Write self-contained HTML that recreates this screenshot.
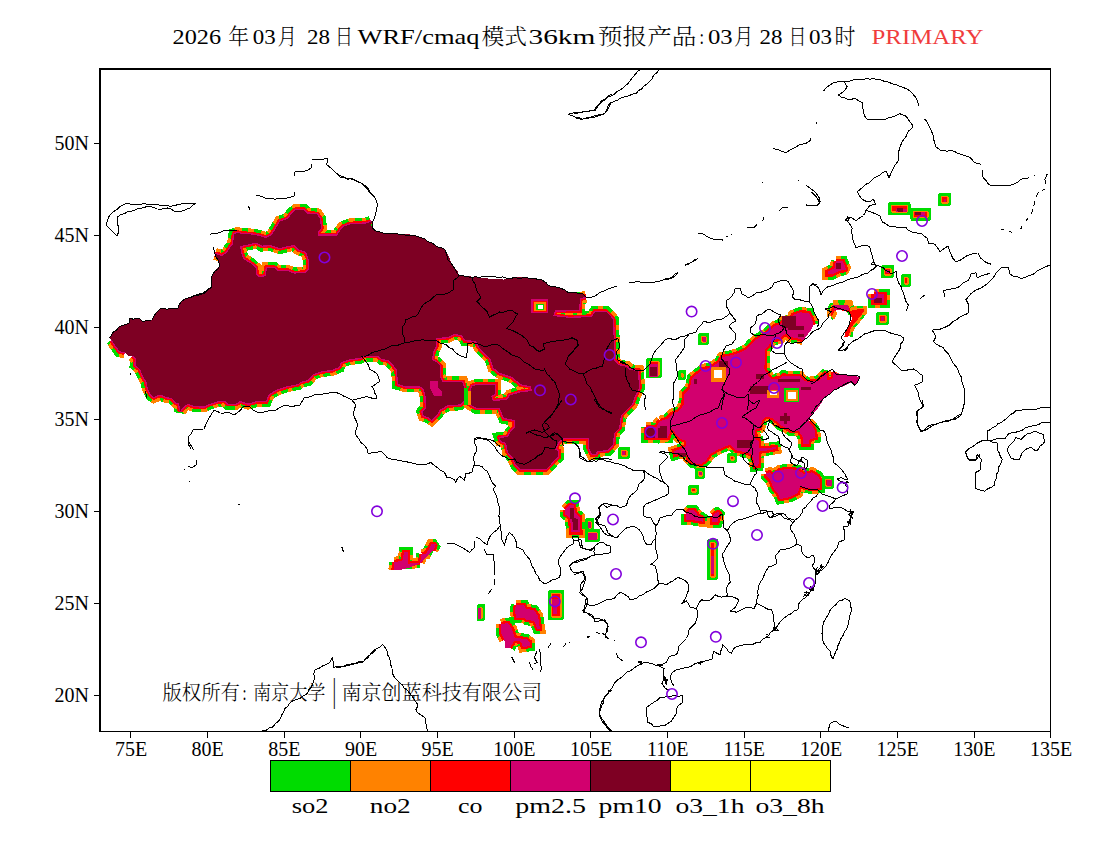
<!DOCTYPE html>
<html lang="zh"><head><meta charset="utf-8"><title>WRF/cmaq PRIMARY</title>
<style>
html,body{margin:0;padding:0;background:#fff;}
body{width:1100px;height:850px;overflow:hidden;position:relative;}
svg{position:absolute;left:0;top:0;display:block;}
text{font-family:"Liberation Serif","Noto Serif CJK SC",serif;fill:#000;}
.ax{font-size:20px;}
.lg{font-size:22px;}
.ttl{font-size:21.5px;font-weight:300;}
.cp{font-size:20.5px;font-weight:300;}
.bd{fill:none;stroke:#000;stroke-width:1;stroke-linejoin:round;stroke-linecap:round;}
.cc{fill:none;stroke:#8200dc;stroke-width:1.6;}
</style></head><body>
<svg width="1100" height="850" viewBox="0 0 1100 850">
<rect x="0" y="0" width="1100" height="850" fill="#fff"/>
<defs><clipPath id="mapclip"><rect x="100" y="69" width="950.5" height="662.5"/></clipPath></defs>
<g clip-path="url(#mapclip)" shape-rendering="crispEdges">
<path d="M215.0,254.0 L222.0,256.0 L227.0,253.0 L230.0,248.0 L233.0,244.0 L234.4,234.0 L237.0,233.0 L242.0,234.0 L250.0,234.4 L258.0,235.6 L266.0,238.0 L272.0,235.0 L276.0,228.0 L280.0,221.6 L288.0,219.0 L292.0,213.0 L296.0,210.0 L304.0,210.0 L307.0,213.6 L317.0,214.4 L320.0,219.0 L321.0,228.0 L318.0,232.0 L318.0,235.6 L337.0,235.6 L340.0,231.0 L343.0,227.0 L350.0,224.4 L366.0,223.6 L371.0,221.6 M586.0,297.0 L580.0,298.0 L579.0,310.0 L555.0,310.4 L553.0,316.0 L570.0,318.0 L592.0,317.0 L595.0,312.0 L606.0,312.0 L611.0,317.0 L613.0,320.0 L613.6,338.0 L613.6,360.0 L618.0,365.0 L627.0,367.0 L629.0,370.0 L638.0,371.0 L639.0,388.0 L635.0,396.0 L632.0,404.0 L627.0,409.0 L621.0,415.0 L619.0,428.0 L614.0,433.0 L613.0,444.0 L608.0,450.0 L597.0,451.0 L596.0,454.0 L592.0,454.0 L589.0,448.0 L589.0,438.0 L564.0,438.0 L560.0,440.0 L558.0,443.0 L555.0,450.0 L558.0,451.0 L558.0,457.0 L554.0,460.0 L551.0,464.0 L546.0,469.0 L520.0,469.0 L516.0,465.0 L513.0,458.0 L508.0,452.0 L506.0,443.0 L501.0,441.0 L500.0,438.0 L508.0,437.0 L510.0,433.0 L515.0,427.0 L515.0,420.0 L504.0,418.0 L500.0,409.0 L500.0,407.6 L476.0,407.6 L470.0,404.0 L470.0,401.0 L463.6,401.0 L460.0,404.4 L448.0,405.0 L440.0,409.6 L437.0,414.4 L431.6,419.6 L428.0,417.0 L423.6,415.6 L422.4,412.0 L426.0,408.0 L425.6,396.0 L423.6,389.0 L420.0,386.4 L406.0,386.4 L398.0,384.0 L397.0,370.0 L394.0,366.0 L388.0,360.0 L382.0,359.0 L378.0,355.6 L364.0,355.6 L360.0,358.0 L350.0,359.0 L341.0,362.0 L339.0,367.0 L332.0,370.0 L322.0,371.0 L313.0,374.0 L308.0,380.0 L300.0,382.0 L298.0,384.0 L288.0,386.0 L278.0,389.0 L269.0,394.0 L266.0,401.0 L257.0,401.0 L248.0,403.6 L240.0,401.0 L236.0,403.6 L228.0,403.6 L225.0,400.6 L218.0,401.0 L209.0,404.0 L204.0,406.4 L194.0,406.0 L188.0,403.6 L183.0,407.0 L180.4,411.0 L179.0,403.6 L176.0,402.4 L172.0,398.0 L166.0,397.0 L160.0,394.4 L154.0,397.0 L151.0,395.0 L148.0,389.0 L146.4,382.0 L143.0,376.0 L140.0,369.0 L135.6,365.0 L136.0,359.0 L133.0,355.6 M125.0,352.4 L119.0,351.0 L118.0,349.0 L115.0,345.0 L112.0,340.0 M240.0,246.0 L250.0,244.0 L256.0,242.4 L262.0,245.6 L270.0,245.0 L280.0,248.0 L288.0,246.0 L294.0,245.0 L298.0,249.0 L306.0,252.0 L309.0,260.0 L309.0,270.0 L305.0,273.0 L294.0,273.6 L288.0,271.0 L278.0,271.0 L274.0,268.0 L267.0,268.0 L265.6,276.0 L259.0,277.6 L256.0,274.0 L255.6,268.0 L250.0,263.0 L243.0,259.0 L241.0,252.0 L240.0,246.0 M436.0,338.0 L448.0,337.0 L454.0,334.0 L462.0,335.0 L465.0,340.0 L476.0,341.0 L479.0,347.0 L484.0,352.4 L490.0,358.0 L493.6,368.0 L500.0,373.0 L512.0,377.0 L517.0,381.0 L520.0,384.0 L531.0,386.4 L532.0,391.0 L520.0,392.4 L510.0,395.6 L507.0,400.0 L493.0,401.0 L491.0,396.0 L495.0,394.0 L495.0,385.0 L476.0,385.0 L472.4,386.4 L470.0,392.0 L467.0,394.0 L464.0,388.0 L462.4,382.4 L443.0,382.4 L440.0,377.0 L440.0,366.0 L436.0,362.0 L432.0,360.0 L433.0,352.0 L436.0,346.0 L436.0,338.0" fill="none" stroke-linejoin="miter" stroke-miterlimit="1.6" stroke-linecap="butt" stroke="#00dc00" stroke-width="12"/>
<path d="M660.0,421.0 L667.0,419.0 L672.0,414.0 L679.0,411.0 L683.6,405.0 L684.0,394.0 L690.0,388.0 L692.0,378.0 L697.0,374.0 L703.0,369.0 L710.0,368.0 L719.0,362.0 L722.0,357.0 L730.0,355.6 L739.0,353.0 L746.0,349.6 L751.0,344.4 L756.0,339.6 L762.0,336.0 L766.0,334.0 L769.0,331.0 L775.0,326.0 L780.0,324.0 L784.0,321.0 L791.0,320.0 L793.0,315.0 L800.0,312.4 L809.0,313.0 L812.0,319.0 L813.6,325.0 M803.0,340.0 L798.0,338.4 L790.0,337.0 L787.0,334.0 L783.0,335.0 L780.0,339.0 L772.0,340.0 L769.0,345.0 L765.0,350.0 L764.4,369.0 L767.0,373.0 L769.0,377.0 L772.0,379.0 L780.0,378.4 L783.0,375.6 L800.0,376.4 L803.0,380.0 L808.0,382.0 L818.0,381.0 L823.0,376.0 L826.0,372.4 L827.6,380.0 L832.4,379.0 L833.6,372.0 M808.4,422.4 L812.0,425.6 L815.0,430.4 L815.6,438.0 L809.6,439.0 L809.0,444.4 L803.4,444.4 L802.4,436.0 L798.4,431.0 L791.0,431.0 L786.4,428.0 L780.0,425.0 L777.0,421.6 L772.0,418.0 L766.0,416.4 L762.4,420.0 L760.0,428.0 L755.0,430.0 L755.6,440.0 L758.4,440.4 L759.4,448.4 L768.0,448.0 L775.6,447.0 L776.0,449.0 L768.0,450.4 L759.4,451.6 L758.4,466.0 L754.8,466.4 L753.2,458.0 L751.0,454.0 L744.0,452.0 L736.0,450.4 L730.4,444.4 L724.0,447.0 L718.0,449.6 L710.4,454.0 L706.4,460.0 L701.0,464.4 L693.0,463.0 L688.0,458.0 L687.0,454.0 L680.0,453.6 L675.0,455.0 L674.0,451.0 L680.0,449.0 L686.0,446.0 L686.0,441.0 L679.0,438.0 L675.0,433.0 L671.0,428.0 L669.0,436.0 L660.0,438.0 L658.0,436.0 L657.0,428.0 L658.0,423.0 L660.0,421.0 M766.0,473.6 L769.6,472.4 L772.4,475.0 L780.0,470.0 L788.0,469.0 L798.0,470.0 L804.0,474.0 L812.0,472.4 L818.0,476.0 L820.0,480.0 L820.0,488.0 L814.0,489.0 L806.0,488.0 L800.0,486.0 L798.0,493.0 L790.0,497.0 L780.0,499.0 L778.0,494.0 L774.0,489.0 L770.0,480.0 L766.0,476.0 L766.0,473.6 M686.0,513.6 L690.0,510.0 L694.4,510.4 L697.6,515.0 L702.6,518.0 L702.6,521.6 L697.0,521.0 L690.0,519.6 L686.0,519.6 L686.0,513.6 M712.4,515.6 L717.0,512.4 L719.6,511.6 L719.0,516.4 L717.4,522.4 L712.4,522.4 L712.4,515.6 M565.2,509.6 L569.6,505.4 L574.0,505.4 L574.8,512.4 L579.6,516.8 L580.4,532.4 L571.2,532.4 L570.2,518.0 L565.2,514.4 L565.2,509.6 M646.0,427.0 L668.0,427.0 L668.0,438.0 L646.0,438.0 L646.0,427.0 M836.0,261.0 L842.8,261.0 L845.6,268.0 L846.4,270.0 L840.0,270.6 L832.4,274.4 L827.6,274.4 L827.6,271.6 L834.4,268.4 L836.0,261.0 M873.6,294.0 L884.4,294.0 L884.4,303.2 L873.6,303.2 L873.6,294.0 M833.0,304.8 L848.0,304.8 L849.2,309.6 M834.4,310.6 L833.0,304.8 M394.4,562.0 L402.4,561.0 L404.0,552.0 L407.6,552.0 L408.4,563.6 L420.0,563.0 M393.6,570.0 L394.4,562.0 M421.6,554.0 L426.4,553.6 L431.2,544.4 L436.0,544.4 L433.2,550.4 M420.0,563.0 L421.6,554.0 M516.0,605.0 L524.0,605.0 L526.0,609.0 L534.0,610.0 L538.0,616.0 L540.0,629.0 L537.6,629.0 L534.0,621.0 L527.0,620.0 L524.0,618.0 L516.0,618.0 L515.0,610.0 L516.0,605.0 M501.0,624.0 L508.0,623.0 L512.0,629.0 L515.0,638.0 L526.0,639.0 L530.0,642.0 L530.0,646.0 L523.0,647.0 L521.0,641.6 L514.0,641.0 L510.0,648.0 M504.4,639.6 L501.0,633.0 L501.0,624.0" fill="none" stroke-linejoin="miter" stroke-miterlimit="1.6" stroke-linecap="butt" stroke="#00dc00" stroke-width="10.5"/>
<path d="M215.0,254.0 L222.0,256.0 L227.0,253.0 L230.0,248.0 L233.0,244.0 L234.4,234.0 L237.0,233.0 L242.0,234.0 L250.0,234.4 L258.0,235.6 L266.0,238.0 L272.0,235.0 L276.0,228.0 L280.0,221.6 L288.0,219.0 L292.0,213.0 L296.0,210.0 L304.0,210.0 L307.0,213.6 L317.0,214.4 L320.0,219.0 L321.0,228.0 L318.0,232.0 L318.0,235.6 L337.0,235.6 L340.0,231.0 L343.0,227.0 L350.0,224.4 L366.0,223.6 L371.0,221.6 M586.0,297.0 L580.0,298.0 L579.0,310.0 L555.0,310.4 L553.0,316.0 L570.0,318.0 L592.0,317.0 L595.0,312.0 L606.0,312.0 L611.0,317.0 L613.0,320.0 L613.6,338.0 L613.6,360.0 L618.0,365.0 L627.0,367.0 L629.0,370.0 L638.0,371.0 L639.0,388.0 L635.0,396.0 L632.0,404.0 L627.0,409.0 L621.0,415.0 L619.0,428.0 L614.0,433.0 L613.0,444.0 L608.0,450.0 L597.0,451.0 L596.0,454.0 L592.0,454.0 L589.0,448.0 L589.0,438.0 L564.0,438.0 L560.0,440.0 L558.0,443.0 L555.0,450.0 L558.0,451.0 L558.0,457.0 L554.0,460.0 L551.0,464.0 L546.0,469.0 L520.0,469.0 L516.0,465.0 L513.0,458.0 L508.0,452.0 L506.0,443.0 L501.0,441.0 L500.0,438.0 L508.0,437.0 L510.0,433.0 L515.0,427.0 L515.0,420.0 L504.0,418.0 L500.0,409.0 L500.0,407.6 L476.0,407.6 L470.0,404.0 L470.0,401.0 L463.6,401.0 L460.0,404.4 L448.0,405.0 L440.0,409.6 L437.0,414.4 L431.6,419.6 L428.0,417.0 L423.6,415.6 L422.4,412.0 L426.0,408.0 L425.6,396.0 L423.6,389.0 L420.0,386.4 L406.0,386.4 L398.0,384.0 L397.0,370.0 L394.0,366.0 L388.0,360.0 L382.0,359.0 L378.0,355.6 L364.0,355.6 L360.0,358.0 L350.0,359.0 L341.0,362.0 L339.0,367.0 L332.0,370.0 L322.0,371.0 L313.0,374.0 L308.0,380.0 L300.0,382.0 L298.0,384.0 L288.0,386.0 L278.0,389.0 L269.0,394.0 L266.0,401.0 L257.0,401.0 L248.0,403.6 L240.0,401.0 L236.0,403.6 L228.0,403.6 L225.0,400.6 L218.0,401.0 L209.0,404.0 L204.0,406.4 L194.0,406.0 L188.0,403.6 L183.0,407.0 L180.4,411.0 L179.0,403.6 L176.0,402.4 L172.0,398.0 L166.0,397.0 L160.0,394.4 L154.0,397.0 L151.0,395.0 L148.0,389.0 L146.4,382.0 L143.0,376.0 L140.0,369.0 L135.6,365.0 L136.0,359.0 L133.0,355.6 M125.0,352.4 L119.0,351.0 L118.0,349.0 L115.0,345.0 L112.0,340.0 M240.0,246.0 L250.0,244.0 L256.0,242.4 L262.0,245.6 L270.0,245.0 L280.0,248.0 L288.0,246.0 L294.0,245.0 L298.0,249.0 L306.0,252.0 L309.0,260.0 L309.0,270.0 L305.0,273.0 L294.0,273.6 L288.0,271.0 L278.0,271.0 L274.0,268.0 L267.0,268.0 L265.6,276.0 L259.0,277.6 L256.0,274.0 L255.6,268.0 L250.0,263.0 L243.0,259.0 L241.0,252.0 L240.0,246.0 M436.0,338.0 L448.0,337.0 L454.0,334.0 L462.0,335.0 L465.0,340.0 L476.0,341.0 L479.0,347.0 L484.0,352.4 L490.0,358.0 L493.6,368.0 L500.0,373.0 L512.0,377.0 L517.0,381.0 L520.0,384.0 L531.0,386.4 L532.0,391.0 L520.0,392.4 L510.0,395.6 L507.0,400.0 L493.0,401.0 L491.0,396.0 L495.0,394.0 L495.0,385.0 L476.0,385.0 L472.4,386.4 L470.0,392.0 L467.0,394.0 L464.0,388.0 L462.4,382.4 L443.0,382.4 L440.0,377.0 L440.0,366.0 L436.0,362.0 L432.0,360.0 L433.0,352.0 L436.0,346.0 L436.0,338.0" fill="none" stroke-linejoin="miter" stroke-miterlimit="1.6" stroke-linecap="butt" stroke="#ff8200" stroke-width="12" stroke-dasharray="5 7"/>
<path d="M660.0,421.0 L667.0,419.0 L672.0,414.0 L679.0,411.0 L683.6,405.0 L684.0,394.0 L690.0,388.0 L692.0,378.0 L697.0,374.0 L703.0,369.0 L710.0,368.0 L719.0,362.0 L722.0,357.0 L730.0,355.6 L739.0,353.0 L746.0,349.6 L751.0,344.4 L756.0,339.6 L762.0,336.0 L766.0,334.0 L769.0,331.0 L775.0,326.0 L780.0,324.0 L784.0,321.0 L791.0,320.0 L793.0,315.0 L800.0,312.4 L809.0,313.0 L812.0,319.0 L813.6,325.0 M803.0,340.0 L798.0,338.4 L790.0,337.0 L787.0,334.0 L783.0,335.0 L780.0,339.0 L772.0,340.0 L769.0,345.0 L765.0,350.0 L764.4,369.0 L767.0,373.0 L769.0,377.0 L772.0,379.0 L780.0,378.4 L783.0,375.6 L800.0,376.4 L803.0,380.0 L808.0,382.0 L818.0,381.0 L823.0,376.0 L826.0,372.4 L827.6,380.0 L832.4,379.0 L833.6,372.0 M808.4,422.4 L812.0,425.6 L815.0,430.4 L815.6,438.0 L809.6,439.0 L809.0,444.4 L803.4,444.4 L802.4,436.0 L798.4,431.0 L791.0,431.0 L786.4,428.0 L780.0,425.0 L777.0,421.6 L772.0,418.0 L766.0,416.4 L762.4,420.0 L760.0,428.0 L755.0,430.0 L755.6,440.0 L758.4,440.4 L759.4,448.4 L768.0,448.0 L775.6,447.0 L776.0,449.0 L768.0,450.4 L759.4,451.6 L758.4,466.0 L754.8,466.4 L753.2,458.0 L751.0,454.0 L744.0,452.0 L736.0,450.4 L730.4,444.4 L724.0,447.0 L718.0,449.6 L710.4,454.0 L706.4,460.0 L701.0,464.4 L693.0,463.0 L688.0,458.0 L687.0,454.0 L680.0,453.6 L675.0,455.0 L674.0,451.0 L680.0,449.0 L686.0,446.0 L686.0,441.0 L679.0,438.0 L675.0,433.0 L671.0,428.0 L669.0,436.0 L660.0,438.0 L658.0,436.0 L657.0,428.0 L658.0,423.0 L660.0,421.0 M766.0,473.6 L769.6,472.4 L772.4,475.0 L780.0,470.0 L788.0,469.0 L798.0,470.0 L804.0,474.0 L812.0,472.4 L818.0,476.0 L820.0,480.0 L820.0,488.0 L814.0,489.0 L806.0,488.0 L800.0,486.0 L798.0,493.0 L790.0,497.0 L780.0,499.0 L778.0,494.0 L774.0,489.0 L770.0,480.0 L766.0,476.0 L766.0,473.6 M686.0,513.6 L690.0,510.0 L694.4,510.4 L697.6,515.0 L702.6,518.0 L702.6,521.6 L697.0,521.0 L690.0,519.6 L686.0,519.6 L686.0,513.6 M712.4,515.6 L717.0,512.4 L719.6,511.6 L719.0,516.4 L717.4,522.4 L712.4,522.4 L712.4,515.6 M565.2,509.6 L569.6,505.4 L574.0,505.4 L574.8,512.4 L579.6,516.8 L580.4,532.4 L571.2,532.4 L570.2,518.0 L565.2,514.4 L565.2,509.6 M646.0,427.0 L668.0,427.0 L668.0,438.0 L646.0,438.0 L646.0,427.0 M836.0,261.0 L842.8,261.0 L845.6,268.0 L846.4,270.0 L840.0,270.6 L832.4,274.4 L827.6,274.4 L827.6,271.6 L834.4,268.4 L836.0,261.0 M873.6,294.0 L884.4,294.0 L884.4,303.2 L873.6,303.2 L873.6,294.0 M833.0,304.8 L848.0,304.8 L849.2,309.6 M834.4,310.6 L833.0,304.8 M394.4,562.0 L402.4,561.0 L404.0,552.0 L407.6,552.0 L408.4,563.6 L420.0,563.0 M393.6,570.0 L394.4,562.0 M421.6,554.0 L426.4,553.6 L431.2,544.4 L436.0,544.4 L433.2,550.4 M420.0,563.0 L421.6,554.0 M516.0,605.0 L524.0,605.0 L526.0,609.0 L534.0,610.0 L538.0,616.0 L540.0,629.0 L537.6,629.0 L534.0,621.0 L527.0,620.0 L524.0,618.0 L516.0,618.0 L515.0,610.0 L516.0,605.0 M501.0,624.0 L508.0,623.0 L512.0,629.0 L515.0,638.0 L526.0,639.0 L530.0,642.0 L530.0,646.0 L523.0,647.0 L521.0,641.6 L514.0,641.0 L510.0,648.0 M504.4,639.6 L501.0,633.0 L501.0,624.0" fill="none" stroke-linejoin="miter" stroke-miterlimit="1.6" stroke-linecap="butt" stroke="#ff8200" stroke-width="10.5" stroke-dasharray="5 7"/>
<path d="M215.0,254.0 L222.0,256.0 L227.0,253.0 L230.0,248.0 L233.0,244.0 L234.4,234.0 L237.0,233.0 L242.0,234.0 L250.0,234.4 L258.0,235.6 L266.0,238.0 L272.0,235.0 L276.0,228.0 L280.0,221.6 L288.0,219.0 L292.0,213.0 L296.0,210.0 L304.0,210.0 L307.0,213.6 L317.0,214.4 L320.0,219.0 L321.0,228.0 L318.0,232.0 L318.0,235.6 L337.0,235.6 L340.0,231.0 L343.0,227.0 L350.0,224.4 L366.0,223.6 L371.0,221.6 M586.0,297.0 L580.0,298.0 L579.0,310.0 L555.0,310.4 L553.0,316.0 L570.0,318.0 L592.0,317.0 L595.0,312.0 L606.0,312.0 L611.0,317.0 L613.0,320.0 L613.6,338.0 L613.6,360.0 L618.0,365.0 L627.0,367.0 L629.0,370.0 L638.0,371.0 L639.0,388.0 L635.0,396.0 L632.0,404.0 L627.0,409.0 L621.0,415.0 L619.0,428.0 L614.0,433.0 L613.0,444.0 L608.0,450.0 L597.0,451.0 L596.0,454.0 L592.0,454.0 L589.0,448.0 L589.0,438.0 L564.0,438.0 L560.0,440.0 L558.0,443.0 L555.0,450.0 L558.0,451.0 L558.0,457.0 L554.0,460.0 L551.0,464.0 L546.0,469.0 L520.0,469.0 L516.0,465.0 L513.0,458.0 L508.0,452.0 L506.0,443.0 L501.0,441.0 L500.0,438.0 L508.0,437.0 L510.0,433.0 L515.0,427.0 L515.0,420.0 L504.0,418.0 L500.0,409.0 L500.0,407.6 L476.0,407.6 L470.0,404.0 L470.0,401.0 L463.6,401.0 L460.0,404.4 L448.0,405.0 L440.0,409.6 L437.0,414.4 L431.6,419.6 L428.0,417.0 L423.6,415.6 L422.4,412.0 L426.0,408.0 L425.6,396.0 L423.6,389.0 L420.0,386.4 L406.0,386.4 L398.0,384.0 L397.0,370.0 L394.0,366.0 L388.0,360.0 L382.0,359.0 L378.0,355.6 L364.0,355.6 L360.0,358.0 L350.0,359.0 L341.0,362.0 L339.0,367.0 L332.0,370.0 L322.0,371.0 L313.0,374.0 L308.0,380.0 L300.0,382.0 L298.0,384.0 L288.0,386.0 L278.0,389.0 L269.0,394.0 L266.0,401.0 L257.0,401.0 L248.0,403.6 L240.0,401.0 L236.0,403.6 L228.0,403.6 L225.0,400.6 L218.0,401.0 L209.0,404.0 L204.0,406.4 L194.0,406.0 L188.0,403.6 L183.0,407.0 L180.4,411.0 L179.0,403.6 L176.0,402.4 L172.0,398.0 L166.0,397.0 L160.0,394.4 L154.0,397.0 L151.0,395.0 L148.0,389.0 L146.4,382.0 L143.0,376.0 L140.0,369.0 L135.6,365.0 L136.0,359.0 L133.0,355.6 M125.0,352.4 L119.0,351.0 L118.0,349.0 L115.0,345.0 L112.0,340.0 M240.0,246.0 L250.0,244.0 L256.0,242.4 L262.0,245.6 L270.0,245.0 L280.0,248.0 L288.0,246.0 L294.0,245.0 L298.0,249.0 L306.0,252.0 L309.0,260.0 L309.0,270.0 L305.0,273.0 L294.0,273.6 L288.0,271.0 L278.0,271.0 L274.0,268.0 L267.0,268.0 L265.6,276.0 L259.0,277.6 L256.0,274.0 L255.6,268.0 L250.0,263.0 L243.0,259.0 L241.0,252.0 L240.0,246.0 M436.0,338.0 L448.0,337.0 L454.0,334.0 L462.0,335.0 L465.0,340.0 L476.0,341.0 L479.0,347.0 L484.0,352.4 L490.0,358.0 L493.6,368.0 L500.0,373.0 L512.0,377.0 L517.0,381.0 L520.0,384.0 L531.0,386.4 L532.0,391.0 L520.0,392.4 L510.0,395.6 L507.0,400.0 L493.0,401.0 L491.0,396.0 L495.0,394.0 L495.0,385.0 L476.0,385.0 L472.4,386.4 L470.0,392.0 L467.0,394.0 L464.0,388.0 L462.4,382.4 L443.0,382.4 L440.0,377.0 L440.0,366.0 L436.0,362.0 L432.0,360.0 L433.0,352.0 L436.0,346.0 L436.0,338.0" fill="none" stroke-linejoin="miter" stroke-miterlimit="1.6" stroke-linecap="butt" stroke="#ff0000" stroke-width="5.5"/>
<path d="M660.0,421.0 L667.0,419.0 L672.0,414.0 L679.0,411.0 L683.6,405.0 L684.0,394.0 L690.0,388.0 L692.0,378.0 L697.0,374.0 L703.0,369.0 L710.0,368.0 L719.0,362.0 L722.0,357.0 L730.0,355.6 L739.0,353.0 L746.0,349.6 L751.0,344.4 L756.0,339.6 L762.0,336.0 L766.0,334.0 L769.0,331.0 L775.0,326.0 L780.0,324.0 L784.0,321.0 L791.0,320.0 L793.0,315.0 L800.0,312.4 L809.0,313.0 L812.0,319.0 L813.6,325.0 M803.0,340.0 L798.0,338.4 L790.0,337.0 L787.0,334.0 L783.0,335.0 L780.0,339.0 L772.0,340.0 L769.0,345.0 L765.0,350.0 L764.4,369.0 L767.0,373.0 L769.0,377.0 L772.0,379.0 L780.0,378.4 L783.0,375.6 L800.0,376.4 L803.0,380.0 L808.0,382.0 L818.0,381.0 L823.0,376.0 L826.0,372.4 L827.6,380.0 L832.4,379.0 L833.6,372.0 M808.4,422.4 L812.0,425.6 L815.0,430.4 L815.6,438.0 L809.6,439.0 L809.0,444.4 L803.4,444.4 L802.4,436.0 L798.4,431.0 L791.0,431.0 L786.4,428.0 L780.0,425.0 L777.0,421.6 L772.0,418.0 L766.0,416.4 L762.4,420.0 L760.0,428.0 L755.0,430.0 L755.6,440.0 L758.4,440.4 L759.4,448.4 L768.0,448.0 L775.6,447.0 L776.0,449.0 L768.0,450.4 L759.4,451.6 L758.4,466.0 L754.8,466.4 L753.2,458.0 L751.0,454.0 L744.0,452.0 L736.0,450.4 L730.4,444.4 L724.0,447.0 L718.0,449.6 L710.4,454.0 L706.4,460.0 L701.0,464.4 L693.0,463.0 L688.0,458.0 L687.0,454.0 L680.0,453.6 L675.0,455.0 L674.0,451.0 L680.0,449.0 L686.0,446.0 L686.0,441.0 L679.0,438.0 L675.0,433.0 L671.0,428.0 L669.0,436.0 L660.0,438.0 L658.0,436.0 L657.0,428.0 L658.0,423.0 L660.0,421.0 M766.0,473.6 L769.6,472.4 L772.4,475.0 L780.0,470.0 L788.0,469.0 L798.0,470.0 L804.0,474.0 L812.0,472.4 L818.0,476.0 L820.0,480.0 L820.0,488.0 L814.0,489.0 L806.0,488.0 L800.0,486.0 L798.0,493.0 L790.0,497.0 L780.0,499.0 L778.0,494.0 L774.0,489.0 L770.0,480.0 L766.0,476.0 L766.0,473.6 M686.0,513.6 L690.0,510.0 L694.4,510.4 L697.6,515.0 L702.6,518.0 L702.6,521.6 L697.0,521.0 L690.0,519.6 L686.0,519.6 L686.0,513.6 M712.4,515.6 L717.0,512.4 L719.6,511.6 L719.0,516.4 L717.4,522.4 L712.4,522.4 L712.4,515.6 M565.2,509.6 L569.6,505.4 L574.0,505.4 L574.8,512.4 L579.6,516.8 L580.4,532.4 L571.2,532.4 L570.2,518.0 L565.2,514.4 L565.2,509.6 M646.0,427.0 L668.0,427.0 L668.0,438.0 L646.0,438.0 L646.0,427.0 M836.0,261.0 L842.8,261.0 L845.6,268.0 L846.4,270.0 L840.0,270.6 L832.4,274.4 L827.6,274.4 L827.6,271.6 L834.4,268.4 L836.0,261.0 M873.6,294.0 L884.4,294.0 L884.4,303.2 L873.6,303.2 L873.6,294.0 M833.0,304.8 L848.0,304.8 L849.2,309.6 M834.4,310.6 L833.0,304.8 M394.4,562.0 L402.4,561.0 L404.0,552.0 L407.6,552.0 L408.4,563.6 L420.0,563.0 M393.6,570.0 L394.4,562.0 M421.6,554.0 L426.4,553.6 L431.2,544.4 L436.0,544.4 L433.2,550.4 M420.0,563.0 L421.6,554.0 M516.0,605.0 L524.0,605.0 L526.0,609.0 L534.0,610.0 L538.0,616.0 L540.0,629.0 L537.6,629.0 L534.0,621.0 L527.0,620.0 L524.0,618.0 L516.0,618.0 L515.0,610.0 L516.0,605.0 M501.0,624.0 L508.0,623.0 L512.0,629.0 L515.0,638.0 L526.0,639.0 L530.0,642.0 L530.0,646.0 L523.0,647.0 L521.0,641.6 L514.0,641.0 L510.0,648.0 M504.4,639.6 L501.0,633.0 L501.0,624.0" fill="none" stroke-linejoin="miter" stroke-miterlimit="1.6" stroke-linecap="butt" stroke="#ff0000" stroke-width="4.5"/>
<path d="M215.0,254.0 L222.0,256.0 L227.0,253.0 L230.0,248.0 L233.0,244.0 L234.4,234.0 L237.0,233.0 L242.0,234.0 L250.0,234.4 L258.0,235.6 L266.0,238.0 L272.0,235.0 L276.0,228.0 L280.0,221.6 L288.0,219.0 L292.0,213.0 L296.0,210.0 L304.0,210.0 L307.0,213.6 L317.0,214.4 L320.0,219.0 L321.0,228.0 L318.0,232.0 L318.0,235.6 L337.0,235.6 L340.0,231.0 L343.0,227.0 L350.0,224.4 L366.0,223.6 L371.0,221.6 M586.0,297.0 L580.0,298.0 L579.0,310.0 L555.0,310.4 L553.0,316.0 L570.0,318.0 L592.0,317.0 L595.0,312.0 L606.0,312.0 L611.0,317.0 L613.0,320.0 L613.6,338.0 L613.6,360.0 L618.0,365.0 L627.0,367.0 L629.0,370.0 L638.0,371.0 L639.0,388.0 L635.0,396.0 L632.0,404.0 L627.0,409.0 L621.0,415.0 L619.0,428.0 L614.0,433.0 L613.0,444.0 L608.0,450.0 L597.0,451.0 L596.0,454.0 L592.0,454.0 L589.0,448.0 L589.0,438.0 L564.0,438.0 L560.0,440.0 L558.0,443.0 L555.0,450.0 L558.0,451.0 L558.0,457.0 L554.0,460.0 L551.0,464.0 L546.0,469.0 L520.0,469.0 L516.0,465.0 L513.0,458.0 L508.0,452.0 L506.0,443.0 L501.0,441.0 L500.0,438.0 L508.0,437.0 L510.0,433.0 L515.0,427.0 L515.0,420.0 L504.0,418.0 L500.0,409.0 L500.0,407.6 L476.0,407.6 L470.0,404.0 L470.0,401.0 L463.6,401.0 L460.0,404.4 L448.0,405.0 L440.0,409.6 L437.0,414.4 L431.6,419.6 L428.0,417.0 L423.6,415.6 L422.4,412.0 L426.0,408.0 L425.6,396.0 L423.6,389.0 L420.0,386.4 L406.0,386.4 L398.0,384.0 L397.0,370.0 L394.0,366.0 L388.0,360.0 L382.0,359.0 L378.0,355.6 L364.0,355.6 L360.0,358.0 L350.0,359.0 L341.0,362.0 L339.0,367.0 L332.0,370.0 L322.0,371.0 L313.0,374.0 L308.0,380.0 L300.0,382.0 L298.0,384.0 L288.0,386.0 L278.0,389.0 L269.0,394.0 L266.0,401.0 L257.0,401.0 L248.0,403.6 L240.0,401.0 L236.0,403.6 L228.0,403.6 L225.0,400.6 L218.0,401.0 L209.0,404.0 L204.0,406.4 L194.0,406.0 L188.0,403.6 L183.0,407.0 L180.4,411.0 L179.0,403.6 L176.0,402.4 L172.0,398.0 L166.0,397.0 L160.0,394.4 L154.0,397.0 L151.0,395.0 L148.0,389.0 L146.4,382.0 L143.0,376.0 L140.0,369.0 L135.6,365.0 L136.0,359.0 L133.0,355.6 M125.0,352.4 L119.0,351.0 L118.0,349.0 L115.0,345.0 L112.0,340.0 M240.0,246.0 L250.0,244.0 L256.0,242.4 L262.0,245.6 L270.0,245.0 L280.0,248.0 L288.0,246.0 L294.0,245.0 L298.0,249.0 L306.0,252.0 L309.0,260.0 L309.0,270.0 L305.0,273.0 L294.0,273.6 L288.0,271.0 L278.0,271.0 L274.0,268.0 L267.0,268.0 L265.6,276.0 L259.0,277.6 L256.0,274.0 L255.6,268.0 L250.0,263.0 L243.0,259.0 L241.0,252.0 L240.0,246.0 M436.0,338.0 L448.0,337.0 L454.0,334.0 L462.0,335.0 L465.0,340.0 L476.0,341.0 L479.0,347.0 L484.0,352.4 L490.0,358.0 L493.6,368.0 L500.0,373.0 L512.0,377.0 L517.0,381.0 L520.0,384.0 L531.0,386.4 L532.0,391.0 L520.0,392.4 L510.0,395.6 L507.0,400.0 L493.0,401.0 L491.0,396.0 L495.0,394.0 L495.0,385.0 L476.0,385.0 L472.4,386.4 L470.0,392.0 L467.0,394.0 L464.0,388.0 L462.4,382.4 L443.0,382.4 L440.0,377.0 L440.0,366.0 L436.0,362.0 L432.0,360.0 L433.0,352.0 L436.0,346.0 L436.0,338.0" fill="none" stroke-linejoin="miter" stroke-miterlimit="1.6" stroke-linecap="butt" stroke="#d2006e" stroke-width="2.6"/>
<path d="M830.8,316.4 L830.6,310.8 L832.4,306.4 L848.6,306.0 L850.4,310.8 L858.4,309.2 L863.6,309.2 L863.6,312.0 L858.0,319.0 L853.2,324.4 L850.0,330.0 L849.0,336.4 M834.4,310.8 L832.0,316.0 L830.8,316.4" fill="none" stroke-linejoin="miter" stroke-miterlimit="1.6" stroke-linecap="butt" stroke="#00dc00" stroke-width="7"/>
<path d="M830.8,316.4 L830.6,310.8 L832.4,306.4 L848.6,306.0 L850.4,310.8 L858.4,309.2 L863.6,309.2 L863.6,312.0 L858.0,319.0 L853.2,324.4 L850.0,330.0 L849.0,336.4 M834.4,310.8 L832.0,316.0 L830.8,316.4" fill="none" stroke-linejoin="miter" stroke-miterlimit="1.6" stroke-linecap="butt" stroke="#ff8200" stroke-width="7" stroke-dasharray="6 5"/>
<path d="M830.8,316.4 L830.6,310.8 L832.4,306.4 L848.6,306.0 L850.4,310.8 L858.4,309.2 L863.6,309.2 L863.6,312.0 L858.0,319.0 L853.2,324.4 L850.0,330.0 L849.0,336.4 M834.4,310.8 L832.0,316.0 L830.8,316.4" fill="none" stroke-linejoin="miter" stroke-miterlimit="1.6" stroke-linecap="butt" stroke="#ff8200" stroke-width="2.5"/>
<path d="M830.8,316.4 L830.6,310.8 L832.4,306.4 L848.6,306.0 L850.4,310.8 L858.4,309.2 L863.6,309.2 L863.6,312.0 L858.0,319.0 L853.2,324.4 L850.0,330.0 L849.0,336.4 L844.4,337.0 L846.0,330.0 L850.0,323.6 L852.0,318.4 L849.4,312.4 L840.0,310.0 L834.4,310.8 L832.0,316.0Z" fill="#ff0000" fill-rule="evenodd"/>
<rect x="938.0" y="193.0" width="13.0" height="13.0" fill="#00dc00" rx="2"/>
<rect x="940.5" y="195.5" width="8.0" height="8.0" fill="#ff8200" rx="1"/>
<rect x="942.0" y="197.0" width="5.0" height="5.0" fill="#ff0000"/>
<rect x="943.5" y="199.0" width="2.0" height="3.0" fill="#d2006e"/>
<rect x="888.0" y="202.0" width="22.6" height="13.0" fill="#00dc00" rx="2"/>
<rect x="890.5" y="204.5" width="17.6" height="8.0" fill="#ff8200" rx="1"/>
<rect x="892.0" y="206.0" width="14.6" height="5.0" fill="#ff0000"/>
<rect x="895.5" y="209.0" width="11.0" height="3.0" fill="#d2006e"/>
<rect x="897.5" y="209.0" width="5.5" height="3.0" fill="#7e0023"/>
<rect x="910.3" y="208.0" width="20.7" height="12.8" fill="#00dc00" rx="2"/>
<rect x="912.8" y="210.5" width="15.7" height="7.8" fill="#ff8200" rx="1"/>
<rect x="914.3" y="212.0" width="12.7" height="4.8" fill="#ff0000"/>
<rect x="915.0" y="212.4" width="10.0" height="2.8" fill="#d2006e"/>
<rect x="915.0" y="212.4" width="5.0" height="2.8" fill="#7e0023"/>
<rect x="881.0" y="265.0" width="13.0" height="13.0" fill="#00dc00" rx="2"/>
<rect x="883.5" y="267.5" width="8.0" height="8.0" fill="#ff8200" rx="1"/>
<rect x="885.0" y="269.0" width="5.0" height="5.0" fill="#ff0000"/>
<rect x="886.0" y="270.0" width="3.0" height="3.0" fill="#d2006e"/>
<rect x="901.0" y="274.0" width="10.0" height="13.0" fill="#00dc00" rx="2"/>
<rect x="903.5" y="276.5" width="5.0" height="8.0" fill="#ff8200" rx="1"/>
<rect x="905.0" y="278.0" width="2.0" height="5.0" fill="#ff0000"/>
<rect x="876.0" y="312.0" width="13.0" height="13.0" fill="#00dc00" rx="2"/>
<rect x="878.5" y="314.5" width="8.0" height="8.0" fill="#ff8200" rx="1"/>
<rect x="880.0" y="316.0" width="5.0" height="5.0" fill="#ff0000"/>
<rect x="881.0" y="317.0" width="3.0" height="4.0" fill="#d2006e"/>
<rect x="646.0" y="358.0" width="16.0" height="20.0" fill="#00dc00" rx="2"/>
<rect x="648.5" y="360.5" width="11.0" height="15.0" fill="#ff8200" rx="1"/>
<rect x="650.0" y="362.0" width="8.0" height="12.0" fill="#ff0000"/>
<rect x="649.0" y="364.0" width="9.0" height="13.0" fill="#d2006e"/>
<rect x="650.0" y="367.0" width="7.0" height="9.0" fill="#7e0023"/>
<rect x="678.0" y="370.0" width="8.0" height="10.0" fill="#00dc00" rx="2"/>
<rect x="680.5" y="372.5" width="3.0" height="5.0" fill="#ff8200" rx="1"/>
<rect x="698.0" y="333.0" width="11.0" height="12.0" fill="#00dc00" rx="2"/>
<rect x="700.5" y="335.5" width="6.0" height="7.0" fill="#ff8200" rx="1"/>
<rect x="702.0" y="337.0" width="3.0" height="4.0" fill="#ff0000"/>
<rect x="702.5" y="337.0" width="3.0" height="5.0" fill="#d2006e"/>
<rect x="618.0" y="447.0" width="12.0" height="12.0" fill="#00dc00" rx="2"/>
<rect x="620.5" y="449.5" width="7.0" height="7.0" fill="#ff8200" rx="1"/>
<rect x="622.0" y="451.0" width="4.0" height="4.0" fill="#ff0000"/>
<rect x="622.0" y="451.0" width="3.0" height="4.0" fill="#d2006e"/>
<rect x="585.0" y="518.0" width="9.0" height="13.0" fill="#00dc00" rx="2"/>
<rect x="587.5" y="520.5" width="4.0" height="8.0" fill="#ff8200" rx="1"/>
<rect x="587.5" y="522.0" width="3.0" height="6.0" fill="#d2006e"/>
<rect x="585.0" y="529.0" width="15.0" height="13.0" fill="#00dc00" rx="2"/>
<rect x="587.5" y="531.5" width="10.0" height="8.0" fill="#ff8200" rx="1"/>
<rect x="589.0" y="533.0" width="7.0" height="5.0" fill="#ff0000"/>
<rect x="588.0" y="533.0" width="9.0" height="7.0" fill="#d2006e"/>
<rect x="695.0" y="468.0" width="10.0" height="11.0" fill="#00dc00" rx="2"/>
<rect x="697.5" y="470.5" width="5.0" height="6.0" fill="#ff8200" rx="1"/>
<rect x="699.0" y="472.0" width="2.0" height="3.0" fill="#ff0000"/>
<rect x="699.0" y="472.0" width="3.0" height="3.0" fill="#d2006e"/>
<rect x="688.0" y="485.0" width="11.0" height="10.0" fill="#00dc00" rx="2"/>
<rect x="690.5" y="487.5" width="6.0" height="5.0" fill="#ff8200" rx="1"/>
<rect x="692.0" y="489.0" width="3.0" height="2.0" fill="#ff0000"/>
<rect x="727.0" y="453.0" width="10.0" height="10.0" fill="#00dc00" rx="2"/>
<rect x="729.5" y="455.5" width="5.0" height="5.0" fill="#ff8200" rx="1"/>
<rect x="731.0" y="457.0" width="2.0" height="2.0" fill="#ff0000"/>
<rect x="707.0" y="539.0" width="11.0" height="41.0" fill="#00dc00" rx="2"/>
<rect x="709.5" y="541.5" width="6.0" height="36.0" fill="#ff8200" rx="1"/>
<rect x="711.0" y="543.0" width="3.0" height="33.0" fill="#ff0000"/>
<rect x="710.5" y="556.0" width="3.0" height="18.0" fill="#d2006e"/>
<rect x="822.0" y="476.0" width="12.0" height="13.0" fill="#00dc00" rx="2"/>
<rect x="824.5" y="478.5" width="7.0" height="8.0" fill="#ff8200" rx="1"/>
<rect x="826.0" y="480.0" width="4.0" height="5.0" fill="#ff0000"/>
<rect x="827.0" y="480.0" width="5.0" height="6.0" fill="#d2006e"/>
<rect x="548.0" y="590.0" width="16.0" height="30.0" fill="#00dc00" rx="2"/>
<rect x="550.5" y="592.5" width="11.0" height="25.0" fill="#ff8200" rx="1"/>
<rect x="552.0" y="594.0" width="8.0" height="22.0" fill="#ff0000"/>
<rect x="552.0" y="599.0" width="8.0" height="7.0" fill="#d2006e"/>
<rect x="553.0" y="606.0" width="4.0" height="8.0" fill="#d2006e"/>
<rect x="477.0" y="604.0" width="8.0" height="17.0" fill="#00dc00" rx="2"/>
<rect x="479.5" y="606.5" width="3.0" height="12.0" fill="#ff8200" rx="1"/>
<rect x="478.0" y="608.0" width="3.0" height="11.0" fill="#d2006e"/>
<path d="M660.0,421.0 L667.0,419.0 L672.0,414.0 L679.0,411.0 L683.6,405.0 L684.0,394.0 L690.0,388.0 L692.0,378.0 L697.0,374.0 L703.0,369.0 L710.0,368.0 L719.0,362.0 L722.0,357.0 L730.0,355.6 L739.0,353.0 L746.0,349.6 L751.0,344.4 L756.0,339.6 L762.0,336.0 L766.0,334.0 L769.0,331.0 L775.0,326.0 L780.0,324.0 L784.0,321.0 L791.0,320.0 L793.0,315.0 L800.0,312.4 L809.0,313.0 L812.0,319.0 L813.6,325.0 L811.0,330.0 L808.0,334.0 L805.0,338.0 L803.0,340.0 L798.0,338.4 L790.0,337.0 L787.0,334.0 L783.0,335.0 L780.0,339.0 L772.0,340.0 L769.0,345.0 L765.0,350.0 L764.4,369.0 L767.0,373.0 L769.0,377.0 L772.0,379.0 L780.0,378.4 L783.0,375.6 L800.0,376.4 L803.0,380.0 L808.0,382.0 L818.0,381.0 L823.0,376.0 L826.0,372.4 L827.6,380.0 L832.4,379.0 L833.6,372.0 L840.0,374.0 L852.0,375.6 L859.4,377.0 L858.0,382.4 L855.0,384.4 L851.6,382.0 L844.0,386.0 L836.0,389.0 L830.0,394.0 L823.6,397.6 L822.0,402.0 L818.0,408.0 L814.0,412.4 L809.0,418.0 L808.4,422.4 L812.0,425.6 L815.0,430.4 L815.6,438.0 L809.6,439.0 L809.0,444.4 L803.4,444.4 L802.4,436.0 L798.4,431.0 L791.0,431.0 L786.4,428.0 L780.0,425.0 L777.0,421.6 L772.0,418.0 L766.0,416.4 L762.4,420.0 L760.0,428.0 L755.0,430.0 L755.6,440.0 L758.4,440.4 L759.4,448.4 L768.0,448.0 L775.6,447.0 L776.0,449.0 L768.0,450.4 L759.4,451.6 L758.4,466.0 L754.8,466.4 L753.2,458.0 L751.0,454.0 L744.0,452.0 L736.0,450.4 L730.4,444.4 L724.0,447.0 L718.0,449.6 L710.4,454.0 L706.4,460.0 L701.0,464.4 L693.0,463.0 L688.0,458.0 L687.0,454.0 L680.0,453.6 L675.0,455.0 L674.0,451.0 L680.0,449.0 L686.0,446.0 L686.0,441.0 L679.0,438.0 L675.0,433.0 L671.0,428.0 L669.0,436.0 L660.0,438.0 L658.0,436.0 L657.0,428.0 L658.0,423.0Z" fill="#d2006e" fill-rule="evenodd"/>
<path d="M766.0,473.6 L769.6,472.4 L772.4,475.0 L780.0,470.0 L788.0,469.0 L798.0,470.0 L804.0,474.0 L812.0,472.4 L818.0,476.0 L820.0,480.0 L820.0,488.0 L814.0,489.0 L806.0,488.0 L800.0,486.0 L798.0,493.0 L790.0,497.0 L780.0,499.0 L778.0,494.0 L774.0,489.0 L770.0,480.0 L766.0,476.0Z" fill="#d2006e" fill-rule="evenodd"/>
<path d="M686.0,513.6 L690.0,510.0 L694.4,510.4 L697.6,515.0 L702.6,518.0 L702.6,521.6 L697.0,521.0 L690.0,519.6 L686.0,519.6Z" fill="#d2006e" fill-rule="evenodd"/>
<path d="M712.4,515.6 L717.0,512.4 L719.6,511.6 L719.0,516.4 L717.4,522.4 L712.4,522.4Z" fill="#d2006e" fill-rule="evenodd"/>
<path d="M565.2,509.6 L569.6,505.4 L574.0,505.4 L574.8,512.4 L579.6,516.8 L580.4,532.4 L571.2,532.4 L570.2,518.0 L565.2,514.4Z" fill="#d2006e" fill-rule="evenodd"/>
<path d="M646.0,427.0 L668.0,427.0 L668.0,438.0 L646.0,438.0Z" fill="#d2006e" fill-rule="evenodd"/>
<path d="M836.0,261.0 L842.8,261.0 L845.6,268.0 L846.4,270.0 L840.0,270.6 L832.4,274.4 L827.6,274.4 L827.6,271.6 L834.4,268.4Z" fill="#d2006e" fill-rule="evenodd"/>
<path d="M873.6,294.0 L884.4,294.0 L884.4,303.2 L873.6,303.2Z" fill="#d2006e" fill-rule="evenodd"/>
<path d="M833.0,304.8 L848.0,304.8 L849.2,309.6 L840.0,309.6 L834.4,310.6Z" fill="#d2006e" fill-rule="evenodd"/>
<path d="M394.4,562.0 L402.4,561.0 L404.0,552.0 L407.6,552.0 L408.4,563.6 L420.0,563.0 L410.0,567.4 L400.0,570.0 L393.6,570.0Z" fill="#d2006e" fill-rule="evenodd"/>
<path d="M421.6,554.0 L426.4,553.6 L431.2,544.4 L436.0,544.4 L433.2,550.4 L426.4,557.0 L420.0,563.0Z" fill="#d2006e" fill-rule="evenodd"/>
<path d="M516.0,605.0 L524.0,605.0 L526.0,609.0 L534.0,610.0 L538.0,616.0 L540.0,629.0 L537.6,629.0 L534.0,621.0 L527.0,620.0 L524.0,618.0 L516.0,618.0 L515.0,610.0Z" fill="#d2006e" fill-rule="evenodd"/>
<path d="M501.0,624.0 L508.0,623.0 L512.0,629.0 L515.0,638.0 L526.0,639.0 L530.0,642.0 L530.0,646.0 L523.0,647.0 L521.0,641.6 L514.0,641.0 L510.0,648.0 L505.0,648.4 L504.4,639.6 L501.0,633.0Z" fill="#d2006e" fill-rule="evenodd"/>
<path d="M109.6,338.0 L113.0,332.4 L119.0,327.0 L129.0,323.0 L129.6,318.6 L140.0,319.0 L143.0,321.6 L152.0,320.0 L156.0,313.0 L160.0,309.0 L178.0,308.0 L182.0,301.0 L188.0,298.0 L200.0,293.6 L204.0,293.6 L211.0,287.0 L211.0,287.0 L211.6,276.0 L216.0,270.0 L220.0,265.0 L217.0,258.0 L215.0,254.0 L222.0,256.0 L227.0,253.0 L230.0,248.0 L233.0,244.0 L234.4,234.0 L237.0,233.0 L242.0,234.0 L250.0,234.4 L258.0,235.6 L266.0,238.0 L272.0,235.0 L276.0,228.0 L280.0,221.6 L288.0,219.0 L292.0,213.0 L296.0,210.0 L304.0,210.0 L307.0,213.6 L317.0,214.4 L320.0,219.0 L321.0,228.0 L318.0,232.0 L318.0,235.6 L337.0,235.6 L340.0,231.0 L343.0,227.0 L350.0,224.4 L366.0,223.6 L371.0,221.6 L372.4,220.0 L371.0,225.0 L374.0,230.0 L385.0,233.6 L410.0,234.4 L412.0,235.0 L420.0,237.0 L428.0,241.0 L438.0,247.0 L444.0,248.4 L448.0,255.0 L452.0,264.0 L458.0,272.0 L459.0,276.4 L470.0,276.4 L480.0,278.0 L504.0,279.6 L518.0,277.0 L540.0,279.0 L548.0,285.0 L560.0,288.0 L568.0,292.4 L583.0,294.0 L586.0,297.0 L580.0,298.0 L579.0,310.0 L555.0,310.4 L553.0,316.0 L570.0,318.0 L592.0,317.0 L595.0,312.0 L606.0,312.0 L611.0,317.0 L613.0,320.0 L613.6,338.0 L613.6,360.0 L618.0,365.0 L627.0,367.0 L629.0,370.0 L638.0,371.0 L639.0,388.0 L635.0,396.0 L632.0,404.0 L627.0,409.0 L621.0,415.0 L619.0,428.0 L614.0,433.0 L613.0,444.0 L608.0,450.0 L597.0,451.0 L596.0,454.0 L592.0,454.0 L589.0,448.0 L589.0,438.0 L564.0,438.0 L560.0,440.0 L558.0,443.0 L555.0,450.0 L558.0,451.0 L558.0,457.0 L554.0,460.0 L551.0,464.0 L546.0,469.0 L520.0,469.0 L516.0,465.0 L513.0,458.0 L508.0,452.0 L506.0,443.0 L501.0,441.0 L500.0,438.0 L508.0,437.0 L510.0,433.0 L515.0,427.0 L515.0,420.0 L504.0,418.0 L500.0,409.0 L500.0,407.6 L476.0,407.6 L470.0,404.0 L470.0,401.0 L463.6,401.0 L460.0,404.4 L448.0,405.0 L440.0,409.6 L437.0,414.4 L431.6,419.6 L428.0,417.0 L423.6,415.6 L422.4,412.0 L426.0,408.0 L425.6,396.0 L423.6,389.0 L420.0,386.4 L406.0,386.4 L398.0,384.0 L397.0,370.0 L394.0,366.0 L388.0,360.0 L382.0,359.0 L378.0,355.6 L364.0,355.6 L360.0,358.0 L350.0,359.0 L341.0,362.0 L339.0,367.0 L332.0,370.0 L322.0,371.0 L313.0,374.0 L308.0,380.0 L300.0,382.0 L298.0,384.0 L288.0,386.0 L278.0,389.0 L269.0,394.0 L266.0,401.0 L257.0,401.0 L248.0,403.6 L240.0,401.0 L236.0,403.6 L228.0,403.6 L225.0,400.6 L218.0,401.0 L209.0,404.0 L204.0,406.4 L194.0,406.0 L188.0,403.6 L183.0,407.0 L180.4,411.0 L179.0,403.6 L176.0,402.4 L172.0,398.0 L166.0,397.0 L160.0,394.4 L154.0,397.0 L151.0,395.0 L148.0,389.0 L146.4,382.0 L143.0,376.0 L140.0,369.0 L135.6,365.0 L136.0,359.0 L133.0,355.6 L128.0,355.6 L125.0,352.4 L119.0,351.0 L118.0,349.0 L115.0,345.0 L112.0,340.0Z M240.0,246.0 L250.0,244.0 L256.0,242.4 L262.0,245.6 L270.0,245.0 L280.0,248.0 L288.0,246.0 L294.0,245.0 L298.0,249.0 L306.0,252.0 L309.0,260.0 L309.0,270.0 L305.0,273.0 L294.0,273.6 L288.0,271.0 L278.0,271.0 L274.0,268.0 L267.0,268.0 L265.6,276.0 L259.0,277.6 L256.0,274.0 L255.6,268.0 L250.0,263.0 L243.0,259.0 L241.0,252.0Z M436.0,338.0 L448.0,337.0 L454.0,334.0 L462.0,335.0 L465.0,340.0 L476.0,341.0 L479.0,347.0 L484.0,352.4 L490.0,358.0 L493.6,368.0 L500.0,373.0 L512.0,377.0 L517.0,381.0 L520.0,384.0 L531.0,386.4 L532.0,391.0 L520.0,392.4 L510.0,395.6 L507.0,400.0 L493.0,401.0 L491.0,396.0 L495.0,394.0 L495.0,385.0 L476.0,385.0 L472.4,386.4 L470.0,392.0 L467.0,394.0 L464.0,388.0 L462.4,382.4 L443.0,382.4 L440.0,377.0 L440.0,366.0 L436.0,362.0 L432.0,360.0 L433.0,352.0 L436.0,346.0Z" fill="#7e0023" fill-rule="evenodd"/>
<path d="M750.0,386.0 L769.0,386.0 L769.0,394.0 L750.0,394.0Z" fill="#7e0023"/>
<path d="M756.0,374.0 L764.0,374.0 L764.0,379.0 L756.0,379.0Z" fill="#7e0023"/>
<path d="M778.0,379.0 L800.0,379.0 L800.0,382.0 L778.0,382.0Z" fill="#7e0023"/>
<path d="M801.0,387.0 L811.0,387.0 L811.0,390.0 L801.0,390.0Z" fill="#7e0023"/>
<path d="M780.0,416.0 L790.0,416.0 L790.0,421.0 L780.0,421.0Z" fill="#7e0023"/>
<path d="M784.0,413.0 L787.0,413.0 L787.0,424.0 L784.0,424.0Z" fill="#7e0023"/>
<path d="M737.0,440.0 L752.0,440.0 L752.0,448.0 L737.0,448.0Z" fill="#7e0023"/>
<path d="M694.0,379.0 L697.0,379.0 L697.0,384.0 L694.0,384.0Z" fill="#7e0023"/>
<path d="M719.0,361.0 L728.0,361.0 L728.0,368.0 L719.0,368.0Z" fill="#7e0023"/>
<path d="M660.0,426.0 L667.0,426.0 L667.0,436.0 L660.0,436.0Z" fill="#7e0023"/>
<path d="M782.0,316.0 L796.0,316.0 L796.0,325.6 L804.0,325.6 L804.0,330.0 L788.0,330.0 L788.0,328.0 L782.0,328.0Z" fill="#7e0023"/>
<path d="M798.0,334.0 L804.0,334.0 L804.0,337.0 L798.0,337.0Z" fill="#7e0023"/>
<path d="M569.6,508.0 L573.6,508.0 L573.6,518.0 L578.0,519.0 L578.0,530.0 L573.0,530.0 L572.4,520.0 L569.6,518.0Z" fill="#7e0023"/>
<path d="M646.0,428.0 L655.0,428.0 L655.0,437.6 L646.0,437.6Z" fill="#7e0023"/>
<path d="M657.6,428.0 L667.0,428.0 L667.0,437.6 L657.6,437.6Z" fill="#7e0023"/>
<path d="M897.0,208.4 L903.0,208.4 L903.0,211.4 L897.0,211.4Z" fill="#7e0023"/>
<path d="M915.0,211.6 L921.0,211.6 L921.0,215.0 L915.0,215.0Z" fill="#7e0023"/>
<path d="M836.4,263.0 L841.0,263.0 L841.0,269.0 L836.4,269.0Z" fill="#7e0023"/>
<path d="M874.0,298.0 L882.0,298.0 L882.0,303.0 L874.0,303.0Z" fill="#7e0023"/>
<path d="M679.0,453.0 L686.0,453.0 L686.0,457.0 L679.0,457.0Z" fill="#7e0023"/>
<path d="M430.0,381.0 L438.0,381.0 L438.0,388.0 L442.0,391.0 L442.0,396.0 L434.0,396.0 L430.0,388.0Z" fill="#d2006e"/>
<rect x="464.0" y="388.0" width="3.6" height="17.0" fill="#00dc00"/>
<rect x="467.6" y="391.0" width="3.0" height="14.0" fill="#ff8200"/>
<rect x="710.5" y="367.0" width="15.0" height="14.5" fill="#ff8200"/>
<rect x="713.6" y="370.0" width="8.8" height="8.4" fill="#fff"/>
<rect x="767.0" y="389.5" width="12.0" height="8.0" fill="#ff8200"/>
<rect x="769.6" y="391.0" width="7.4" height="4.0" fill="#fff"/>
<rect x="784.0" y="388.0" width="15.0" height="14.0" fill="#00dc00"/>
<rect x="785.5" y="389.5" width="12.0" height="11.0" fill="#ff8200"/>
<rect x="787.5" y="391.5" width="8.0" height="7.0" fill="#fff"/>
<rect x="531.0" y="299.0" width="17.0" height="14.0" fill="#d2006e"/>
<rect x="532.5" y="300.5" width="14.5" height="11.5" fill="#ff0000"/>
<rect x="534.0" y="302.0" width="11.5" height="8.5" fill="#ff8200"/>
<rect x="536.0" y="303.5" width="8.0" height="6.0" fill="#00dc00"/>
<rect x="538.0" y="304.5" width="5.0" height="4.0" fill="#fff"/>
</g>
<g clip-path="url(#mapclip)" shape-rendering="crispEdges">
<path class="bd" d="M106.2,225.0 L107.2,220.8 L108.8,216.8 L111.5,213.3 L115.0,210.5 L117.9,208.8 L120.3,206.2 L123.5,204.9 L126.2,203.0 L129.4,203.8 L132.5,205.0 L136.2,204.2 L140.0,204.6 L143.7,203.7 L147.5,204.2 L151.3,204.6 L155.1,204.5 L158.8,205.0 L162.5,206.0 L166.7,205.7 L170.9,206.2 L175.0,205.5 L178.7,204.3 L182.4,203.8 L186.2,203.5 L191.0,203.7 L195.8,203.5 L192.5,205.2 L190.0,208.0 L186.2,209.4 L182.5,211.0 L178.8,211.5 L175.0,211.8 L171.6,209.2 L167.5,208.0 L161.2,209.2 L157.3,209.0 L153.8,207.5 L150.1,206.6 L146.2,206.8 L141.9,208.1 L137.5,208.8 L134.3,210.3 L131.0,211.3 L127.5,211.8 L124.3,213.7 L120.6,214.7 L117.5,216.8 L117.5,223.0 L118.8,229.2 L118.3,232.7 L117.0,236.0 L114.2,233.2 L111.2,230.5 L108.9,227.6 L106.2,225.0 M210.0,234.2 L213.3,233.5 L216.7,233.2 L220.0,232.5 L223.2,231.0 L226.5,230.2 L230.0,230.0 L236.2,230.5 M256.2,195.0 L260.8,196.1 L265.0,198.0 L268.3,198.7 L271.7,198.7 L275.0,199.2 L279.1,198.6 L283.3,198.5 L287.5,198.0 L291.0,196.9 L294.5,196.0 L295.0,191.8 M248.8,206.8 L249.5,209.2 M294.5,175.5 L295.0,171.8 L298.3,171.2 L301.7,171.7 L305.0,171.0 L308.3,169.8 L311.2,168.0 L312.0,164.2 M312.0,159.2 L316.0,159.2 L320.0,160.0 L323.5,159.1 L327.0,158.0 L327.5,161.8 L326.2,164.2 L329.4,166.8 L332.5,169.2 L334.6,171.8 L337.3,173.7 L340.0,175.5 L343.9,177.1 L347.5,179.2 L352.5,178.5 L355.9,181.1 L360.0,182.5 L365.0,185.5 L367.9,188.3 L370.0,191.8 L372.6,194.8 L375.0,198.0 M213.6,248.0 L215.0,254.0 L216.2,257.2 L218.0,260.0 L220.0,266.0 L217.9,268.9 L215.0,271.0 L212.0,276.0 L211.7,280.0 L212.0,284.1 L211.0,288.0 L207.9,289.8 L204.8,291.7 L202.0,294.0 L198.0,295.2 L193.8,296.1 L190.0,298.0 M211.0,280.0 L211.3,283.5 L211.0,287.0 L208.5,289.0 L206.2,291.3 L204.0,293.6 L200.0,293.6 L196.0,295.0 L192.0,296.6 L188.0,298.0 L184.8,299.0 L182.0,301.0 L179.4,304.2 L178.0,308.0 L174.4,308.2 L170.8,308.2 L167.2,309.3 L163.6,308.5 L160.0,309.0 L156.0,313.0 L153.8,316.4 L152.0,320.0 L147.4,320.1 L143.0,321.6 L140.0,319.0 L136.6,318.4 L133.1,319.1 L129.6,318.6 L129.0,323.0 L125.7,324.5 L122.2,325.4 L119.0,327.0 L116.5,330.2 L113.0,332.4 L111.3,335.2 L109.6,338.0 M130.4,373.6 L130.6,374.4 M145.6,392.0 L147.0,398.0 M568.2,114.2 L572.3,113.2 L576.5,112.5 L580.8,112.5 L584.1,111.2 L587.7,111.6 L591.0,110.1 L594.5,110.0 L596.7,106.6 L599.4,103.6 L602.0,100.5 L605.6,98.9 L608.3,95.8 L612.0,94.2 M568.2,114.2 L571.4,115.4 L574.5,116.8 L577.4,118.5 L580.8,119.2 L584.6,118.9 L588.4,118.1 L592.0,116.8 L595.0,115.7 L598.2,115.1 L601.3,114.3 L604.5,113.8 L606.7,111.3 L608.4,108.6 L609.5,105.5 L612.0,101.8 M337.0,173.0 L340.8,178.0 L344.6,177.9 L348.3,178.4 L352.0,179.2 L355.5,180.3 L358.8,181.7 L362.0,183.5 L365.1,187.0 L368.2,190.5 L370.6,193.5 L373.5,196.1 L375.8,199.2 L377.1,203.5 L377.0,208.0 L376.3,211.2 L375.5,214.4 L374.5,217.5 L373.2,220.8 L372.0,224.2 L373.2,229.2 L376.3,231.1 L379.8,232.0 L383.2,233.0 L386.4,233.2 L389.6,233.6 L392.8,233.9 L396.1,233.2 L399.2,234.7 L402.4,234.8 L405.6,235.1 L408.8,235.2 L412.0,235.0 L415.4,235.8 L418.7,236.9 L422.0,238.0 L425.3,239.2 L427.9,241.7 L431.3,242.7 L434.3,244.4 L437.0,246.8 L440.9,247.6 L444.5,249.2 L446.2,252.8 L447.2,256.7 L448.2,260.5 L451.0,263.2 L453.2,266.3 L455.2,269.6 L457.0,273.0 L459.5,276.0 L463.7,275.9 L467.9,276.8 L472.0,277.5 L475.3,276.5 L478.7,277.6 L482.0,276.8 L485.5,277.0 L489.0,276.5 L492.5,276.8 L496.0,277.0 L499.5,277.2 L503.0,276.9 L506.5,278.1 L510.0,278.5 L513.5,277.8 L517.0,278.0 L520.6,278.2 L524.2,277.7 L527.7,277.9 L531.3,278.5 L534.9,278.5 L538.4,279.6 L542.0,279.2 M540.0,279.0 L543.0,280.6 L545.8,282.4 L548.0,285.0 L551.8,286.7 L556.0,287.0 L560.0,288.0 L564.3,289.7 L568.0,292.4 L571.7,292.9 L575.6,292.5 L579.2,293.6 L583.0,294.0 L586.0,297.0 L591.0,297.4 L594.3,296.4 L597.3,294.5 L600.0,292.4 L604.1,291.0 L608.0,289.0 L612.4,287.4 L617.0,286.4 M629.0,283.0 L632.6,282.5 L636.3,281.8 L640.0,282.0 L643.3,282.7 L646.7,282.7 L650.0,283.0 L653.4,282.7 L656.6,281.4 L660.0,281.0 L663.9,279.6 L668.1,279.5 L672.0,278.0 L675.5,275.7 L678.0,272.4 M685.0,265.0 L688.7,264.0 L692.0,262.0 L695.3,260.4 L698.0,258.0 M574.0,113.0 L577.6,113.1 L581.1,112.5 L584.6,111.3 L588.2,111.4 L591.7,110.7 L595.2,110.5 L597.2,107.2 L599.7,104.4 L602.5,101.8 L605.2,99.2 L607.8,97.2 L610.9,96.0 L613.9,94.6 L616.2,92.2 L619.0,90.5 L622.2,88.5 L625.1,86.0 L627.9,83.5 L630.2,80.5 L632.6,77.6 L634.9,74.6 L637.4,71.8 L640.2,69.2 M574.0,116.8 L578.5,117.6 L582.8,119.2 L586.2,118.0 L589.9,117.8 L593.5,117.3 L597.0,116.4 L600.5,115.1 L604.0,114.2 L605.8,111.5 L607.5,108.8 L608.1,105.5 L610.2,103.0 L614.1,101.4 L618.0,99.9 L621.5,97.5 L625.4,96.8 L629.1,95.6 L632.7,94.1 L636.5,93.0 L638.7,90.4 L641.8,88.8 L643.8,86.1 L646.8,84.3 L649.0,81.8 L651.6,79.7 L652.9,76.7 L654.9,74.2 L657.5,72.2 L659.0,69.2 M664.0,279.2 L667.8,278.7 L671.5,277.5 L674.3,274.6 L677.8,272.5 M685.2,265.5 L688.1,263.5 L691.5,262.5 L694.3,260.1 L697.8,258.5 M698.2,233.0 L704.0,234.2 L706.8,236.6 L710.2,238.0 L713.9,239.3 L717.8,239.8 L722.8,240.0 M726.5,236.8 L727.0,236.5 M731.5,234.2 L732.0,234.0 M747.0,228.0 L750.5,227.2 L754.0,227.5 L756.5,225.0 M762.8,221.0 L764.0,216.8 M779.5,210.5 L782.8,207.5 L787.8,207.0 M806.5,205.0 L811.5,206.0 L817.8,205.0 L820.2,201.8 L819.5,198.4 L817.8,195.5 L815.1,191.9 L811.5,189.2 L806.5,185.5 M798.2,180.5 L798.5,180.8 M762.2,182.2 L762.5,182.5 M816.2,123.0 L816.5,123.2 M773.2,148.5 L779.0,150.0 L782.4,151.5 L786.0,152.5 L789.9,150.1 L794.0,148.0 L797.2,146.2 L800.2,144.2 L805.2,143.8 L810.2,140.5 L810.2,138.0 M845.2,220.5 L847.8,216.8 L849.0,220.5 M824.0,90.5 L826.5,87.4 L829.8,85.0 L833.9,82.7 L838.5,81.8 L844.8,81.8 L848.7,81.6 L852.3,80.3 L856.0,79.2 L859.5,79.1 L863.0,79.6 L866.5,78.7 L870.0,79.2 L873.5,78.5 L876.7,79.8 L880.3,79.7 L883.5,81.0 L886.9,81.7 L890.3,82.9 L893.5,84.2 L897.0,85.0 L900.1,86.5 L903.5,87.5 L907.4,89.3 L911.0,91.8 L913.6,94.8 L916.0,98.0 L917.8,101.6 L918.5,105.5 M844.8,82.5 L847.2,86.8 L843.5,91.8 L838.5,95.0 L841.6,97.2 L845.3,98.1 L848.5,100.0 L851.6,99.2 L854.8,98.5 L858.4,100.6 L862.2,102.5 L862.1,106.1 L863.2,109.5 L863.5,113.0 L864.8,116.4 L867.2,119.2 L871.0,119.5 L874.7,119.8 L878.5,120.0 L882.3,119.7 L886.0,119.2 L889.5,117.3 L893.5,116.8 L896.6,115.2 L899.8,113.8 L904.8,115.5 L907.6,118.3 L909.8,121.8 L913.0,125.5 L911.7,128.6 L908.8,130.6 L907.2,133.5 L906.0,136.5 L904.0,139.0 L902.2,141.8 L900.3,146.0 L899.0,150.5 L898.9,154.9 L899.0,159.2 L897.1,162.5 L894.8,165.5 L892.9,169.2 L891.0,173.0 L889.0,178.0 L887.6,174.5 L886.0,171.0 L882.5,172.5 L879.6,175.3 L876.0,176.8 L873.4,178.7 L871.2,181.0 L868.7,183.0 L865.7,184.4 L863.5,186.8 L860.4,189.2 L857.2,191.8 L859.0,194.9 L861.0,198.0 L863.9,200.2 L867.2,201.8 L870.6,201.1 L873.5,199.2 L875.5,204.2 L869.8,205.5 L866.0,210.5 M866.0,210.5 L869.8,211.7 L873.5,213.0 L876.6,214.4 L879.8,215.5 L881.0,218.6 L882.2,221.8 L885.2,223.4 L887.9,225.3 L891.0,226.8 L894.8,226.9 L898.5,227.2 L902.3,227.3 L906.0,227.5 L908.1,230.1 L911.0,231.8 L914.3,232.5 L917.6,233.1 L921.0,233.0 L923.7,236.0 L927.2,238.0 L928.5,243.0 L934.8,244.2 L937.6,247.8 L939.8,251.8 L944.8,248.0 L948.0,246.0 L949.4,250.2 L951.0,254.2 L952.9,258.4 L956.0,261.8 L960.0,260.3 L963.5,258.0 L967.0,255.6 L971.0,254.2 L974.4,253.1 L978.0,253.0 L981.0,258.5 L983.6,260.4 L986.0,262.5 L991.0,264.2 M924.8,119.2 L927.2,122.0 L928.5,125.5 L930.7,129.1 L932.2,133.0 L933.7,136.6 L934.0,140.5 L934.8,143.7 L936.0,146.8 L941.0,150.5 L944.3,150.9 L947.7,151.1 L951.0,150.5 L954.5,151.3 L957.6,153.3 L961.0,154.2 L964.7,155.7 L968.5,156.8 L971.3,158.4 L973.1,161.4 L976.0,163.0 L981.0,164.2 M982.2,170.5 L982.2,174.4 L983.5,178.0 L986.3,180.9 L988.5,184.2 L992.1,185.8 L996.0,186.0 L999.3,185.5 L1002.7,185.3 L1006.0,185.0 L1009.8,185.4 L1013.5,184.2 L1017.5,182.2 L1021.0,179.2 L1024.7,178.1 L1028.5,178.0 M1034.8,175.5 L1035.0,175.8 M1047.2,174.2 L1044.8,179.2 L1046.0,184.2 M1044.8,189.2 L1042.2,190.5 M1038.5,192.2 L1036.0,196.8 M1034.8,201.0 L1034.0,205.5 M1033.0,209.2 L1031.0,214.2 M1028.0,218.0 L1026.0,221.0 M1022.2,226.0 L1021.0,228.5 M1001.0,229.2 L1003.5,229.8 M1009.8,231.8 L1011.5,232.2 M846.0,219.2 L851.0,217.5 L856.0,220.5 L859.7,217.9 L863.5,215.5 L866.0,211.0 M846.0,219.2 L848.1,222.2 L850.4,224.9 L852.2,228.0 L851.0,234.0 M811.0,191.8 L814.4,194.6 L817.2,198.0 L819.8,203.0 L816.0,205.5 L811.0,205.0 M816.5,123.0 L816.8,123.2 M459.0,276.4 L454.0,280.0 L453.9,283.4 L453.0,286.6 L453.0,290.0 L448.0,293.0 L444.1,294.4 L440.0,294.3 L436.0,295.0 L433.1,297.3 L430.4,300.1 L427.2,302.0 L424.0,304.0 L421.8,306.9 L420.0,310.0 L418.5,313.4 L416.0,316.0 L412.4,316.7 L409.2,318.3 L406.0,320.0 M402.5,330.2 L402.6,334.6 L404.7,338.5 L405.0,342.8 L401.6,343.9 L398.2,345.1 L394.5,345.2 L390.6,346.1 L387.1,348.1 L383.4,349.5 L379.5,350.2 L376.5,351.6 L373.3,352.2 L370.3,353.6 L367.6,355.6 L364.5,356.5 M405.8,319.0 L405.2,322.9 L403.0,326.3 L402.5,330.2 M405.0,342.8 L408.6,342.2 L412.3,341.8 L415.8,340.3 L419.5,340.2 L423.0,339.7 L426.5,340.8 L430.0,340.6 L433.5,340.2 L437.0,341.0 L440.1,343.0 L443.6,344.0 L447.0,345.2 L449.2,347.7 L452.4,348.9 L454.5,351.5 L458.0,354.4 L462.0,356.5 L467.0,357.8 L466.5,354.3 L467.8,350.9 L467.3,347.4 L467.5,344.0 L473.2,342.8 L476.8,343.5 L480.1,344.7 L483.4,346.2 L487.0,346.5 L491.3,344.9 L495.8,344.0 L499.2,345.4 L502.0,347.8 L505.3,350.3 L508.9,352.4 L512.0,355.2 L517.0,356.5 L520.5,358.5 L523.2,361.5 L526.3,363.0 L529.2,364.7 L531.9,366.8 L534.5,369.0 L538.9,369.7 L543.2,371.0 L544.5,369.0 L547.0,374.0 L549.7,376.3 L551.7,379.3 L554.5,381.5 L556.0,384.8 L557.0,388.4 L558.7,391.6 L559.5,395.2 L558.9,399.0 L558.5,402.9 L557.0,406.5 L554.8,410.1 L552.6,413.6 L549.5,416.5 L546.7,419.2 L544.4,422.3 L542.0,425.2 L543.7,428.2 L544.5,431.5 L547.0,434.0 L549.5,436.5 M472.0,277.0 L472.6,280.8 L475.1,284.0 L475.8,287.8 L477.0,291.3 L479.2,294.4 L480.8,297.8 L477.0,301.5 L479.5,304.0 L481.6,306.9 L484.6,308.9 L487.0,311.5 L489.5,317.0 L492.8,315.3 L496.3,313.9 L499.5,312.0 L503.8,312.1 L507.8,310.6 L512.0,310.2 L514.5,312.5 L517.5,314.0 L515.1,317.6 L513.2,321.5 L510.0,324.9 L507.0,328.5 L510.4,329.8 L513.8,331.1 L517.0,332.8 L520.7,334.7 L524.0,337.3 L527.0,340.2 L529.5,345.2 L533.2,346.8 L536.0,349.7 L539.5,351.5 L544.5,349.0 L543.2,344.0 L546.9,342.8 L550.6,341.8 L554.5,341.5 L558.8,340.3 L563.2,340.2 L567.8,339.5 L572.0,337.8 L577.0,340.2 L578.2,345.2 L575.3,348.0 L573.2,351.5 L570.6,353.8 L568.2,356.5 L566.9,360.4 L565.0,364.0 L567.5,366.2 L569.5,369.0 L573.4,370.6 L577.0,372.8 L583.2,374.0 M583.2,374.0 L586.3,372.1 L589.5,370.2 L592.5,368.8 L595.7,368.3 L598.8,367.1 L602.0,366.5 L603.5,362.5 L604.4,358.3 L604.5,354.0 L606.2,350.7 L607.5,347.2 L609.5,344.0 L612.0,340.2 L615.2,339.8 L618.0,338.0 M583.2,374.0 L584.8,377.2 L586.0,380.6 L587.0,384.0 L590.1,387.3 L592.0,391.5 L593.8,394.8 L595.4,398.1 L597.0,401.5 L599.5,405.3 L602.0,409.0 L605.5,410.3 L608.7,412.3 L612.0,414.0 M362.0,356.5 L365.8,361.5 L368.3,364.9 L369.5,369.0 L373.4,371.2 L377.0,374.0 L378.8,377.6 L379.5,381.5 L375.8,384.1 L372.0,386.5 L373.9,389.4 L374.5,392.8 L376.4,395.6 L377.0,399.0 L373.6,398.5 L370.2,397.7 L367.0,396.5 L362.0,397.8 L358.6,398.5 L355.3,399.4 L352.0,400.2 L348.4,398.0 L344.5,396.5 L340.9,394.4 L337.0,392.8 L333.6,392.7 L330.2,392.7 L326.8,393.7 L323.4,394.0 L320.0,394.0 M474.0,439.0 L478.2,437.0 L482.5,438.7 L487.0,439.0 L490.9,439.8 L494.5,441.5 L496.8,444.0 L499.5,446.0 M525.8,434.0 L529.5,431.5 L533.2,433.6 L537.0,435.2 L541.0,435.9 L544.5,437.8 L549.5,436.5 L553.5,435.1 L557.0,432.8 L559.1,435.7 L562.0,437.8 L562.4,441.9 L563.2,446.0 M320.0,394.0 L316.7,394.5 L313.5,395.1 L310.5,396.9 L307.2,397.2 L304.0,398.0 L302.0,401.5 L300.0,405.0 L295.9,405.5 L292.0,407.0 L286.0,405.0 L282.5,406.3 L279.1,407.9 L276.0,410.0 L272.8,410.5 L269.5,410.6 L266.3,411.5 L263.1,412.1 L260.0,413.0 L256.3,411.9 L253.0,410.0 L249.0,406.0 L243.0,407.0 L240.5,410.2 L237.4,412.7 L234.0,415.0 L230.9,413.7 L228.0,412.0 L224.1,413.1 L220.0,413.0 L217.2,411.2 L214.0,410.4 L211.4,414.2 L209.0,418.0 L207.2,421.6 L205.5,425.3 L204.0,429.0 L200.3,429.1 L196.7,429.7 L193.0,430.0 L191.6,433.4 L189.0,436.0 L188.0,442.0 L189.1,445.7 L191.0,449.0 M188.8,441.2 L190.1,444.4 L192.1,447.1 L193.8,450.0 M196.2,460.0 L196.2,465.0 L191.2,468.0 L188.8,466.2 M184.2,469.2 L184.5,469.5 M189.2,481.2 L189.5,481.5 M238.2,504.5 L239.2,504.8 M342.0,547.5 L343.2,551.2 M352.0,400.0 L355.8,405.0 L354.4,409.4 L353.2,413.8 L354.9,418.2 L357.0,422.5 L357.2,426.7 L355.8,430.8 L355.8,435.0 L358.6,438.5 L360.8,442.5 L364.3,445.2 L367.0,448.8 L368.2,453.8 L372.3,452.6 L376.7,452.4 L380.8,451.2 L384.2,454.1 L387.0,457.5 L390.2,458.7 L393.5,459.9 L397.0,460.0 L401.2,460.8 L405.4,461.5 L409.5,462.5 L413.7,463.3 L417.8,464.4 L422.0,465.0 L426.5,464.1 L430.8,462.5 L433.8,465.1 L437.0,467.5 L440.6,470.2 L444.5,472.5 L447.0,477.5 L450.9,477.9 L454.5,479.5 L455.8,482.5 L457.2,479.1 L459.5,476.2 L464.5,480.0 L465.8,473.8 L472.0,472.5 L472.6,468.7 L474.0,465.0 M474.0,465.0 L474.0,461.2 L473.2,457.5 L474.9,453.6 L477.0,450.0 L476.3,446.6 L474.6,443.5 L474.5,440.0 L478.1,438.7 L482.0,438.8 L485.9,439.7 L489.5,441.2 L491.8,443.9 L494.5,446.2 L496.8,450.2 L499.5,453.8 L502.7,456.1 L506.3,457.7 L509.5,460.0 L514.5,458.8 L517.0,462.5 L520.7,463.5 L524.5,464.5 L527.8,462.5 L531.1,460.6 L534.5,458.8 L537.9,455.8 L542.0,453.8 L543.8,450.8 L544.5,447.5 L547.9,447.5 L551.1,449.0 L554.5,448.8 L556.4,445.2 L557.0,441.2 L552.8,439.4 L549.5,436.2 L554.5,432.5 L557.7,435.0 L560.8,437.5 L563.2,441.2 L566.5,442.1 L569.8,442.8 L573.2,442.5 L578.2,446.2 L579.2,449.6 L580.3,452.8 L580.8,456.2 L584.1,458.4 L587.0,461.2 L590.3,461.9 L593.7,460.8 L597.0,461.2 L599.5,458.0 L603.6,458.8 L607.9,458.8 L612.0,460.0 M474.0,465.0 L478.0,465.7 L482.0,466.2 L484.0,469.2 L487.0,471.2 L489.4,475.4 L490.8,480.0 L492.9,483.4 L495.8,486.2 L493.2,488.8 L495.1,493.1 L497.0,497.5 L497.3,501.0 L498.4,504.2 L499.5,507.5 L499.9,511.7 L498.9,515.8 L499.5,520.0 L499.9,523.3 L501.0,526.6 L500.8,530.0 L501.9,533.2 L501.6,536.7 L502.0,540.0 L504.5,545.0 L505.7,540.6 L507.0,536.2 L509.5,532.5 L512.2,534.8 L514.5,537.5 L515.9,540.7 L516.4,544.1 L517.0,547.5 L520.2,548.5 L523.2,550.0 L524.7,553.4 L527.0,556.2 L529.5,559.0 L530.8,562.5 L532.3,566.4 L534.5,570.0 L535.7,573.6 L538.3,576.4 L539.5,580.0 L544.5,583.8 L548.5,582.4 L552.0,580.0 L555.9,579.1 L559.5,577.5 L560.8,572.5 L560.5,568.2 L558.8,564.2 L558.2,560.0 L560.6,556.1 L563.2,552.5 L567.0,547.5 L570.0,545.5 L573.2,543.8 L573.4,539.9 L572.0,536.2 L578.2,537.0 M447.0,543.0 L450.7,543.5 L454.5,543.8 L458.3,545.4 L462.0,547.5 L465.8,549.9 L469.5,552.5 L471.8,549.8 L474.5,547.5 L474.5,541.2 M475.8,537.0 L479.3,538.6 L482.0,541.2 L487.0,545.0 L488.2,540.0 L490.3,535.9 L493.2,532.5 L497.0,530.0 L499.5,526.2 M484.5,550.0 L487.0,555.0 L493.2,554.5 L493.4,558.6 L494.5,562.5 L495.0,566.7 L494.2,570.9 L495.0,575.0 M494.5,580.0 L494.0,585.0 M492.0,588.8 L488.2,593.8 M598.2,507.5 L603.2,503.8 L607.7,504.0 L612.0,505.0 M598.2,507.5 L599.8,511.1 L600.8,515.0 L598.2,518.7 L595.8,522.5 L598.2,524.7 L600.1,527.4 L602.0,530.0 L604.0,533.0 L607.0,535.0 L612.0,536.2 M578.2,537.0 L578.5,540.6 L579.5,544.1 L580.8,547.5 L585.1,548.9 L589.5,550.0 L594.5,547.5 L593.9,551.2 L594.5,555.0 L590.9,556.1 L587.8,558.3 L584.5,560.0 L580.7,560.5 L577.1,562.3 L573.2,562.5 L569.5,566.2 L571.1,569.6 L573.2,572.5 L576.6,572.0 L580.0,572.0 L583.2,571.2 L584.3,574.5 L585.8,577.5 L584.8,582.0 L583.2,586.2 L582.0,589.7 L579.5,592.5 L582.9,595.5 L587.0,597.5 L587.6,601.2 L587.0,605.0 L585.2,608.5 L583.2,612.0 M342.5,548.8 L343.8,551.2 M527.0,432.5 L530.7,431.0 L534.5,430.0 L538.3,431.0 L542.0,432.5 L545.9,430.3 L549.5,427.5 L547.5,424.5 L544.5,422.5 L546.7,419.7 L549.7,417.7 L552.0,415.0 L554.3,411.1 L557.0,407.5 L559.6,403.8 L562.0,400.0 M594.5,400.0 L597.1,403.7 L599.5,407.5 L603.5,408.9 L607.0,411.2 L612.0,412.5 M574.0,443.0 L576.9,445.1 L579.0,448.0 L579.8,451.3 L579.1,454.7 L580.0,458.0 L584.0,460.0 L588.0,462.0 L591.8,459.6 L596.0,458.0 L599.9,459.6 L604.0,460.0 L607.1,461.7 L610.7,461.9 L614.0,463.0 L618.1,463.5 L622.0,465.0 L625.2,466.1 L628.0,468.0 L631.3,469.0 L634.0,471.0 L638.5,470.3 L643.0,470.0 M643.0,470.0 L644.6,473.9 L645.0,478.0 L642.3,481.3 L639.0,484.0 L637.0,490.0 L634.2,492.8 L631.0,495.0 L628.0,500.0 L626.4,505.6 L623.2,506.5 L620.0,507.6 L617.2,505.8 L614.0,505.0 L610.4,505.9 L607.0,507.6 L603.0,504.0 L599.0,508.0 L599.4,511.5 L599.6,515.0 L595.6,519.0 L599.0,524.0 L605.0,526.0 L606.6,529.4 L608.0,533.0 L611.0,535.0 L614.0,537.0 L617.0,538.0 L618.9,535.4 L621.0,533.0 L623.8,530.1 L627.0,527.6 L633.0,526.4 L636.3,527.4 L639.0,529.6 L641.3,532.6 L643.0,536.0 L644.1,540.3 L646.4,544.0 L651.0,545.0 L652.5,541.7 L655.0,539.0 M643.0,470.0 L646.5,472.5 L650.0,475.0 L653.9,477.2 L658.0,479.0 L660.7,481.2 L664.0,482.4 L666.8,484.9 L669.0,488.0 L668.0,494.0 L665.2,495.8 L662.0,497.0 L659.2,498.7 L656.1,499.8 L653.0,501.0 L649.5,502.6 L646.0,504.0 L643.9,506.7 L643.0,510.0 L644.0,516.0 L647.4,517.5 L651.0,518.0 L653.0,522.0 L656.0,526.0 L655.2,529.2 L656.2,532.6 L655.9,535.8 L655.0,539.0 L655.0,542.7 L655.1,546.4 L656.0,550.0 L657.0,554.0 L658.0,558.0 L654.0,562.0 L651.0,564.4 L655.2,566.0 M664.0,482.4 L662.0,479.0 L660.9,475.5 L659.6,472.0 L659.1,468.5 L660.0,465.0 L663.0,462.0 L665.4,459.4 L668.0,457.0 L665.0,454.0 L660.0,452.4 L662.0,451.0 L665.2,452.3 L668.6,452.8 L672.0,453.0 L678.0,453.6 L683.0,457.0 L685.1,459.9 L688.0,462.0 L690.7,464.1 L694.0,465.0 L698.1,465.6 L702.0,467.0 L706.1,466.9 L710.0,468.0 L713.9,467.0 L718.0,467.0 L723.0,467.0 L724.0,471.0 L725.0,475.0 L728.4,477.2 L732.0,479.0 L734.7,481.1 L738.0,482.0 L744.0,484.0 L750.0,484.0 L752.3,486.3 L755.0,488.0 L756.3,491.1 L758.0,494.0 L756.0,500.0 L757.1,503.7 L759.0,507.0 L760.1,510.5 L761.0,514.0 L766.0,512.0 L772.0,511.0 L774.0,516.0 L770.0,518.0 L776.0,516.0 L779.0,514.6 L782.0,513.0 L785.4,515.0 L788.0,518.0 L794.0,520.0 M656.0,526.0 L658.4,522.2 L660.0,518.0 L666.0,516.0 L672.0,515.0 L673.7,512.2 L676.0,510.0 L682.0,509.0 L686.0,512.0 L692.0,514.0 L694.7,516.1 L698.0,517.0 L704.0,518.0 L710.0,516.0 L716.0,518.0 L719.1,516.2 L722.0,514.0 L723.0,520.0 L723.8,524.0 L724.0,528.0 L728.0,530.0 L729.5,526.7 L732.0,524.0 L734.8,521.7 L738.0,520.0 L742.0,519.2 L746.0,518.0 L750.1,516.8 L754.0,515.0 L757.4,513.9 L761.0,514.0 M724.0,528.0 L727.0,530.6 L729.0,534.0 L730.0,537.5 L731.0,541.0 L728.4,544.4 L726.0,548.0 L724.1,551.6 L722.0,555.0 L723.4,558.4 L724.0,562.0 L725.2,566.0 M750.0,484.0 L751.6,481.1 L753.0,478.0 L754.4,475.0 L757.0,473.0 L755.0,467.0 L750.0,465.0 L746.8,462.7 L744.0,460.0 L742.0,455.0 L745.0,453.4 L748.0,452.0 L750.6,448.3 L752.0,444.0 L754.0,438.0 L759.0,437.0 L764.0,440.0 L769.0,438.0 L766.0,433.0 L763.0,430.0 M574.0,541.0 L577.5,540.5 L581.0,539.6 L581.4,543.9 L583.0,548.0 L587.0,549.3 L591.0,550.6 L595.0,546.0 L597.8,543.7 L601.0,542.0 L604.2,543.0 L606.7,545.3 L610.0,546.0 L610.2,549.2 L611.0,552.4 L607.5,553.3 L604.0,553.6 L600.8,554.8 L597.3,554.5 L594.0,555.0 L590.4,556.3 L587.0,558.0 L583.0,559.1 L579.0,560.0 L574.0,562.0 M823.0,430.0 L824.8,432.8 L826.0,436.0 L826.8,439.4 L827.4,442.8 L829.0,446.0 L830.9,449.9 L832.0,454.0 L833.7,458.3 L834.0,463.0 L837.2,465.3 L840.0,468.0 L842.6,470.9 L845.0,474.0 L846.3,477.1 L848.0,480.0 L844.4,479.2 L841.0,477.6 L837.0,479.0 L840.3,481.1 L844.0,482.4 L845.7,485.4 L848.0,488.0 L847.0,494.0 L842.0,496.0 L839.0,497.5 L836.0,499.0 L833.3,502.3 L830.0,505.0 L829.0,508.0 L832.6,508.2 L836.0,507.0 L842.0,508.0 L845.2,509.8 L848.0,512.0 L852.4,511.6 L851.2,514.7 L851.0,518.0 L849.9,522.1 L848.0,526.0 L843.0,527.0 L844.4,530.4 L845.0,534.0 L844.0,540.0 L839.0,542.0 L837.0,548.0 L834.0,552.0 L831.7,554.8 L830.0,558.0 L828.3,562.1 L826.0,566.0 L822.0,570.0 L817.0,572.0 L820.0,568.0 M782.0,430.0 L782.9,433.8 L785.0,437.0 L788.5,440.0 L792.0,443.0 L790.9,446.7 L789.0,450.0 L791.4,453.8 L793.0,458.0 L796.6,459.9 L800.0,462.0 L802.0,457.0 L807.0,460.0 L808.0,466.0 L805.0,470.0 L802.0,469.0 M800.0,486.0 L803.9,487.7 L808.0,489.0 L811.3,490.0 L814.7,489.1 L818.0,490.0 L822.0,494.0 L828.0,496.0 L832.1,497.4 L836.0,499.0 M760.0,510.0 L763.6,510.1 L767.0,511.0 L767.8,514.8 L770.0,518.0 L773.7,515.0 L778.0,513.0 L781.4,515.0 L784.0,518.0 L790.0,520.0 L793.0,523.0 L794.9,520.2 L797.6,518.2 L800.0,516.0 L802.0,512.7 L803.0,509.0 L805.9,506.9 L808.0,504.0 L810.8,501.2 L813.0,498.0 L816.0,496.6 L818.0,494.0 M793.0,523.0 L790.0,527.0 L791.4,530.8 L794.0,534.0 L795.2,537.3 L796.5,540.5 L797.0,544.0 L801.0,546.0 L801.4,550.2 L803.0,554.0 L805.3,556.3 L808.0,558.0 L813.0,555.0 L814.7,558.3 L815.0,562.0 L812.0,566.0 L814.3,568.7 L817.0,571.0 M797.0,544.0 L793.6,546.2 L790.0,548.0 L786.7,548.9 L783.4,549.6 L780.0,550.0 L777.9,553.3 L775.0,556.0 L776.2,559.9 L776.0,564.0 L772.9,565.8 L769.6,567.0 M921.0,430.0 L921.6,430.6 M811.0,332.8 L814.7,330.7 L818.5,329.0 L821.5,326.5 L823.1,322.8 L826.0,320.2 L828.3,317.7 L829.0,314.2 L831.0,311.5 L827.8,310.4 L824.8,309.0 L829.3,308.2 L833.5,306.5 L837.1,308.2 L841.0,309.0 L844.8,310.2 L848.5,311.5 L850.4,314.4 L851.0,317.8 L849.8,322.1 L848.5,326.5 L846.2,330.4 L843.5,334.0 L841.0,337.8 L844.8,341.5 L842.2,346.5 L838.5,350.2 L842.4,350.2 L846.0,349.0 L848.1,345.6 L851.0,342.8 L854.2,340.5 L858.0,339.1 L861.0,336.5 L864.4,334.0 L868.5,332.8 L872.2,331.4 L876.0,330.2 L880.4,330.7 L884.8,330.2 L889.0,332.5 L893.5,334.0 L897.1,334.6 L900.4,335.8 L903.5,337.8 M903.5,337.8 L902.9,341.4 L900.4,344.4 L900.1,348.2 L898.5,351.5 L896.1,354.8 L893.8,358.2 L892.2,362.0 L895.3,364.6 L898.3,367.3 L901.0,370.2 L905.2,370.5 L909.4,369.6 L913.5,369.0 L916.6,370.8 L919.1,373.4 L922.2,375.2 L923.0,381.5 L919.0,383.6 L914.8,385.2 L916.3,388.5 L917.9,391.7 L918.5,395.2 L919.8,399.2 L921.3,403.0 L923.5,406.5 L920.9,408.4 L918.1,410.2 L916.0,412.8 L917.1,416.4 L917.2,420.2 L917.2,424.0 L919.2,427.7 L921.0,431.5 L924.6,430.4 L928.0,428.8 L931.0,426.5 L934.1,425.1 L937.1,423.7 L940.3,422.7 L943.5,421.5 L946.8,420.7 L950.3,420.5 L953.5,419.0 L957.0,416.1 L961.0,414.0 L962.4,410.8 L963.3,407.4 L964.0,404.0 L964.7,399.9 L964.9,395.7 L964.8,391.5 L964.0,387.7 L962.6,384.1 L961.7,380.3 L961.0,376.5 L959.1,373.3 L958.0,369.6 L956.0,366.5 L953.4,363.5 L951.4,360.1 L949.8,356.5 L948.0,353.4 L945.3,350.9 L943.5,347.8 L939.8,346.2 L936.5,344.2 L933.5,341.5 L936.0,336.5 L934.2,333.3 L932.2,330.2 L935.9,329.2 L939.9,329.3 L943.5,327.8 L946.9,326.4 L950.1,324.6 L952.7,321.8 L956.0,320.2 L958.8,317.8 L961.9,316.0 L965.4,314.6 L968.5,312.8 L969.0,306.5 L967.8,302.9 L966.0,299.5 L968.4,296.8 L970.7,293.9 L973.5,291.5 L976.8,289.7 L980.2,288.3 L983.5,286.5 L986.2,284.6 L988.7,282.6 L991.0,280.2 L993.9,276.8 L996.0,272.8 L998.7,270.4 L1001.0,267.8 L1004.8,267.2 L1008.5,267.8 L1009.8,274.0 L1013.3,276.0 L1017.4,276.7 L1021.0,278.5 L1024.4,277.5 L1027.6,276.2 L1031.0,275.2 L1034.5,273.5 L1037.4,270.7 L1041.0,269.0 L1044.0,267.4 L1047.2,266.1 L1050.5,265.2 M944.8,296.5 L943.5,291.0 L947.1,289.5 L951.0,289.0 L955.5,288.3 L959.8,286.5 L963.5,282.8 L968.5,280.2 L969.9,277.2 L971.0,274.0 L976.0,272.8 L977.2,277.8 L980.3,276.3 L983.5,275.2 L986.6,274.2 L989.8,273.5 M920.2,298.5 L924.8,295.2 M852.2,234.0 L852.1,237.9 L853.5,241.5 L854.7,244.6 L856.0,247.8 L860.3,246.1 L864.8,245.2 L869.8,246.5 L870.6,251.0 L872.2,255.2 L873.5,261.5 L871.0,264.0 L877.2,265.2 L880.3,266.7 L883.5,267.8 L885.5,270.4 L888.9,271.5 L891.0,274.0 L896.0,271.5 L896.7,275.2 L897.2,279.0 L898.7,283.0 L901.0,286.5 L901.8,289.8 L903.5,292.8 L904.8,297.8 L906.1,301.8 L908.5,305.2 L906.0,311.0 M811.0,284.0 L815.1,285.3 L818.5,287.8 L820.0,291.4 L821.0,295.2 L823.0,291.2 L826.0,287.8 L829.2,286.1 L832.9,285.9 L836.0,284.0 L839.4,282.9 L842.9,282.1 L846.0,280.2 L850.3,278.8 L854.8,277.8 L858.1,277.0 L861.0,275.2 L864.7,273.9 L868.5,272.8 L870.8,270.4 L873.8,268.9 L876.0,266.5 L873.5,261.5 M811.0,384.0 L815.1,382.1 L818.5,379.0 L820.6,376.5 L823.6,374.9 L826.0,372.8 L829.2,371.0 L832.2,369.0 L836.0,374.0 L840.2,374.0 L844.4,374.6 L848.5,375.2 L852.3,375.1 L856.0,375.6 L859.8,376.5 L858.8,379.8 L857.2,382.8 L854.8,385.2 L851.0,381.5 L847.6,383.0 L844.2,384.6 L841.0,386.5 L837.4,388.8 L833.5,390.2 L831.5,392.9 L828.7,394.6 L826.0,396.5 L823.3,398.8 L821.0,401.5 L818.8,404.3 L816.0,406.5 L813.7,410.4 L811.0,414.0 M1050.5,407.0 L1047.1,407.8 L1043.6,407.3 L1040.1,408.0 L1036.8,409.1 L1033.3,409.3 L1029.8,409.3 L1026.3,409.4 L1022.9,409.6 L1019.5,410.8 L1016.0,410.5 L1013.8,412.9 L1010.8,414.3 L1008.6,416.6 L1006.2,418.8 L1003.7,420.7 L1001.0,422.5 L997.9,423.7 L995.7,426.2 L992.7,427.7 L990.1,429.7 L987.2,431.2 L987.7,435.6 L988.0,440.0 L990.9,441.5 L993.9,442.7 L997.2,443.0 L997.5,446.5 L997.2,450.0 L999.3,453.0 L1000.3,456.5 L1002.2,459.5 L1000.8,463.7 L998.5,467.5 L998.5,471.2 L996.4,474.4 L996.4,478.0 L995.0,481.4 L994.8,485.0 L991.5,487.2 L987.8,488.7 L984.8,491.2 L980.4,490.1 L976.0,488.8 L975.4,485.5 L975.1,482.3 L975.8,479.0 L975.8,475.7 L975.5,472.5 L978.6,471.1 L981.0,468.8 L980.6,464.3 L981.5,460.0 L979.5,457.1 L977.2,454.5 L976.0,460.0 L972.2,460.2 L968.5,460.0 L967.0,455.6 L965.5,451.2 L969.2,448.3 L973.5,446.2 L976.2,444.1 L979.4,442.4 L982.2,440.5 L988.0,440.0 M988.0,440.0 L992.7,440.0 L997.2,438.8 L1001.0,438.2 L1004.8,438.8 L1008.5,433.8 L1011.8,432.9 L1015.3,432.5 L1018.5,431.2 L1021.9,430.7 L1024.6,428.3 L1027.7,427.0 L1031.0,426.2 L1035.0,425.6 L1038.7,424.4 L1042.2,422.5 L1046.4,422.7 L1050.5,423.0 M1007.2,450.0 L1008.6,446.5 L1011.0,443.8 L1014.0,441.0 L1016.0,437.5 L1021.0,439.5 L1024.0,436.5 L1027.2,433.8 L1031.2,433.1 L1034.8,431.2 L1039.1,433.0 L1043.5,434.5 L1043.6,438.0 L1044.8,441.2 L1042.9,444.1 L1040.1,446.0 L1038.5,449.0 L1036.0,451.2 L1033.4,449.2 L1031.0,447.0 L1027.0,448.7 L1023.5,451.2 L1021.4,453.9 L1020.6,457.3 L1018.5,460.0 L1014.6,459.4 L1011.0,458.0 L1009.0,454.1 L1007.2,450.0 M922.2,400.0 L923.5,406.2 L920.4,408.7 L917.2,411.2 L917.2,415.0 L917.3,418.8 L916.5,422.5 L918.3,425.2 L919.2,428.5 L921.0,431.2 L924.6,429.7 L927.3,426.5 L931.0,425.0 L934.1,424.3 L937.3,423.9 L940.2,422.1 L943.5,422.0 L947.4,421.7 L950.9,419.8 L954.8,419.5 L958.0,417.4 L961.0,415.0 L962.1,411.7 L963.2,408.4 L964.0,405.0 L964.8,400.0 M980.0,441.0 L977.2,443.4 L974.1,445.5 L970.9,447.5 L968.1,449.9 L965.0,452.0 L966.8,456.1 L969.0,460.0 L973.0,459.4 L977.0,459.0 L980.0,454.0 M845.2,598.5 L849.0,600.5 L851.0,603.5 L850.9,606.8 L851.4,610.2 L850.5,613.5 L849.4,617.6 L848.7,621.8 L847.8,626.0 L846.4,629.5 L844.1,632.5 L842.8,636.0 L840.7,639.1 L839.5,642.7 L837.8,646.0 L837.0,649.5 L835.3,652.7 L834.0,656.0 L832.8,659.0 L830.9,655.2 L830.2,651.0 L827.7,648.9 L826.0,646.1 L824.0,643.5 L822.7,640.3 L822.6,636.9 L822.0,633.5 L822.4,629.8 L822.8,626.0 L824.0,621.4 L826.5,617.2 L828.8,614.0 L830.1,610.3 L832.8,607.2 L836.1,604.4 L839.0,601.0 L842.3,600.1 L845.2,598.5 M827.8,731.5 L829.0,727.5 L830.2,723.5 L833.2,721.9 L836.5,721.5 L840.2,724.8 L844.6,726.4 L849.0,728.0 M824.0,566.0 L820.2,569.8 L815.2,572.2 L816.0,578.5 L815.2,582.9 L814.0,587.2 L811.0,590.0 L809.0,593.5 L806.9,596.4 L804.0,598.5 L801.1,600.6 L799.0,603.5 L797.8,609.8 L794.2,611.0 L791.5,613.5 L788.2,615.1 L785.2,617.2 L781.8,620.0 L779.0,623.5 L776.9,626.9 L774.0,629.8 L771.0,631.7 L769.0,634.8 L766.5,637.2 L762.9,639.2 L760.2,642.2 L756.4,642.5 L752.9,644.4 L749.0,644.8 L744.6,644.7 L740.2,645.5 L735.2,647.2 L732.8,650.0 L731.5,653.5 L728.5,651.5 L726.5,648.5 L722.8,644.8 L722.1,648.1 L720.7,651.3 L720.2,654.8 L716.9,653.3 L714.0,651.0 L712.8,654.7 L712.8,658.5 L709.1,660.1 L705.2,661.0 L699.0,662.2 L695.0,663.7 L691.5,666.0 L687.9,667.5 L684.0,668.0 L680.2,668.9 L676.5,669.8 L672.8,672.2 L670.2,676.0 L671.5,682.2 L674.0,686.0 M664.0,668.5 L663.1,672.8 L663.5,677.2 L663.2,680.5 L662.0,683.5 L665.2,688.5 L668.5,689.8 M664.0,668.5 L659.0,666.0 L655.1,665.1 L651.5,663.5 L645.2,662.2 L642.1,663.5 L639.0,664.8 L635.2,667.2 L632.5,669.2 L629.8,671.2 L626.5,672.2 L623.9,675.1 L621.0,677.6 L617.8,679.8 L615.1,682.3 L613.4,685.4 L611.5,688.5 L609.0,690.6 L607.7,693.8 L605.2,696.0 L603.6,699.2 L603.3,702.9 L601.5,706.0 L600.2,710.4 L599.0,714.8 L600.7,718.6 L602.8,722.2 L605.4,725.2 L607.8,728.5 L611.5,731.5 M660.2,697.2 L664.7,697.2 L669.0,696.0 L672.3,696.0 L675.5,695.9 L678.8,696.2 L682.0,695.5 L683.0,698.8 L682.8,702.2 L677.8,706.0 L676.4,709.6 L676.5,713.5 L673.8,717.1 L671.5,721.0 L667.8,723.6 L664.0,726.0 L660.6,725.8 L657.4,726.9 L654.0,726.8 L651.3,723.9 L647.8,722.2 L647.2,717.9 L646.5,713.5 L647.0,707.2 L650.4,704.6 L654.0,702.2 L657.4,700.1 L660.2,697.2 M574.0,574.8 L577.7,573.4 L581.5,572.2 L585.2,577.2 L583.2,581.3 L580.2,584.8 L580.2,591.0 L583.1,594.4 L586.5,597.2 L585.2,603.5 L584.6,607.5 L582.8,611.0 L587.8,613.5 L591.2,616.4 L595.2,618.5 L599.1,618.8 L602.8,619.8 L605.1,622.4 L607.8,624.8 L606.5,631.0 L605.2,637.2 M587.8,636.8 L588.2,637.2 M614.5,640.5 L615.0,641.0 M616.5,653.5 L617.8,657.2 L622.8,661.0 M585.2,603.5 L590.2,605.5 L594.8,605.2 L599.0,603.5 L602.8,601.7 L606.5,599.8 L610.3,599.4 L614.0,598.5 L616.9,595.2 L620.2,592.2 L625.2,594.8 L628.3,596.7 L630.2,599.8 L636.5,598.5 L639.3,596.0 L642.8,594.8 L645.6,592.4 L649.0,591.0 L654.0,588.5 L656.6,586.1 L659.0,583.5 M655.2,566.0 L656.2,569.3 L656.9,572.7 L657.8,576.0 L657.8,579.8 L659.0,583.5 L662.8,583.6 L666.5,584.8 L669.4,582.5 L672.8,581.0 L677.8,577.2 L680.8,578.7 L684.0,579.8 L687.1,582.4 L689.0,586.0 L688.9,589.5 L687.5,592.7 L686.5,596.0 L684.5,600.1 L681.5,603.5 L686.5,601.0 L688.6,604.0 L690.2,607.2 L696.5,608.5 M696.5,608.5 L697.5,612.2 L697.8,616.0 L696.4,619.7 L695.2,623.5 L692.0,626.5 L689.0,629.8 L688.2,634.2 L686.5,638.5 L683.9,640.9 L681.5,643.5 L679.0,646.0 L678.3,650.5 L676.5,654.8 L672.5,655.4 L669.0,657.2 L666.5,662.2 L663.5,663.9 L660.2,664.8 M696.5,608.5 L697.7,605.3 L699.3,602.4 L701.5,599.8 L705.2,600.6 L709.0,601.0 L712.5,598.3 L715.2,594.8 L718.2,596.4 L721.5,597.2 L726.5,596.0 L730.3,596.5 L734.0,597.2 L739.0,599.8 L737.6,602.8 L736.3,605.9 L734.0,608.5 L730.2,611.0 L736.5,612.2 L739.9,610.8 L743.2,609.0 L746.5,607.2 L750.3,607.7 L754.0,608.5 L756.5,603.5 M725.2,566.0 L726.9,569.8 L729.0,573.5 L729.7,577.9 L730.2,582.2 L727.8,585.0 L726.5,588.5 L726.8,592.3 L727.8,596.0 M756.5,603.5 L760.4,605.0 L764.0,607.2 L767.6,609.1 L771.5,609.8 L773.0,613.8 L773.1,618.1 L774.0,622.2 L775.2,628.5 M769.0,566.0 L767.2,569.2 L765.2,572.2 L763.9,575.8 L762.5,579.2 L760.2,582.2 L758.6,586.5 L757.8,591.0 L758.1,595.2 L756.8,599.3 L756.5,603.5 M262.5,731.0 L266.1,730.4 L269.0,728.0 L272.5,727.2 L275.3,723.8 L278.8,721.0 L280.5,717.9 L281.9,714.8 L283.6,711.7 L285.0,708.5 L287.8,706.3 L289.7,703.2 L292.5,701.0 L296.2,699.5 L300.0,698.5 L303.6,695.8 L307.5,693.5 L308.5,690.1 L311.1,687.5 L312.6,684.3 L313.8,681.0 L314.5,677.3 L313.8,673.4 L315.0,669.8 L319.0,668.3 L322.5,666.0 L326.4,664.5 L330.0,662.2 L332.5,657.2 L333.0,660.6 L333.0,664.0 L333.8,667.2 L337.1,666.8 L340.4,666.0 L343.8,666.0 L347.4,664.6 L351.2,663.9 L355.0,663.5 L359.2,661.6 L363.8,661.0 L366.7,657.7 L370.0,654.8 L372.7,652.9 L375.0,650.5 M337.0,667.5 L341.2,667.0 L345.4,666.3 L349.5,665.0 L353.0,664.6 L356.3,663.2 L359.8,662.8 L363.2,662.0 L365.4,659.5 L368.1,657.5 L370.0,654.8 L372.0,652.2 L374.5,650.0 L377.4,648.3 L380.4,646.9 L382.8,644.5 L385.2,647.6 L387.0,651.2 L387.4,654.8 L389.6,657.9 L390.2,661.5 L390.8,665.0 L392.0,668.2 L392.1,671.8 L393.2,675.0 L394.8,677.9 L397.1,680.2 L399.5,682.5 L402.2,684.8 L404.1,687.9 L407.0,690.0 L409.7,693.2 L412.3,696.4 L414.5,700.0 L418.2,705.0 L415.8,710.0 L417.8,712.9 L420.8,715.0 L425.0,717.5 L425.4,721.0 L426.0,724.4 L426.6,727.9 L427.5,731.2 M612.0,690.0 L609.0,692.0 L607.0,695.0 L604.5,697.5 L602.2,701.0 L600.8,705.0 L599.8,708.7 L599.5,712.5 L600.3,715.8 L602.0,718.8 L604.6,722.4 L607.0,726.2 L609.3,729.0 L612.0,731.2 M550.8,643.8 L548.2,647.5 M565.8,643.8 L563.2,647.0 M569.5,642.5 L570.0,642.8 M537.0,651.2 L535.7,654.3 L534.5,657.5 L537.0,662.5 L534.5,663.8 M539.5,650.0 L540.2,653.3 L540.8,656.6 L540.8,660.0 L540.6,663.8 L541.4,667.5 L540.8,671.2 M529.5,662.5 L530.8,666.5 L533.2,670.0 M512.0,657.5 L514.5,662.5 M589.5,636.2 L587.0,638.0 M597.0,632.5 L599.5,633.8 M602.0,633.0 L605.5,635.5 L608.2,638.8 M583.2,612.5 L587.8,613.1 L592.0,615.0 L593.8,617.9 L594.5,621.2 L597.9,621.5 L601.1,620.2 L604.5,620.0 L606.8,622.8 L608.2,626.2 L607.0,632.5 M652.0,358.0 L653.0,354.7 L654.7,351.7 L657.0,349.0 L659.9,346.2 L662.5,343.1 L665.0,340.0 L669.0,338.0 L674.0,340.0 L677.1,338.8 L680.0,337.0 L685.0,336.0 L689.0,334.0 L692.6,333.3 L696.0,332.0 L697.5,328.6 L700.0,326.0 L702.1,323.6 L704.0,321.0 L709.0,323.0 L712.4,321.3 L716.0,320.0 L722.0,319.0 L727.0,316.0 L730.0,313.0 L728.4,309.3 L726.0,306.0 L727.0,300.0 L729.8,298.4 L732.0,296.0 L734.0,292.7 L735.0,289.0 L740.0,288.0 L742.0,294.0 L745.4,295.5 L748.0,298.0 L752.3,296.0 L756.0,293.0 L760.2,292.6 L764.0,291.0 L768.3,289.6 L772.0,287.0 L774.0,283.0 L780.0,281.0 L786.0,280.0 L788.5,282.1 L790.0,285.0 L792.4,288.3 L794.0,292.0 L792.0,297.0 L796.0,300.0 L800.1,299.9 L804.0,301.0 L809.0,302.0 L810.0,298.0 L809.0,294.4 L809.9,290.6 L809.0,287.0 L813.0,283.6 L817.0,285.0 M730.0,313.0 L733.0,317.0 L736.0,321.0 L732.2,323.1 L729.0,326.0 L732.0,330.0 L736.0,334.0 L735.0,340.0 L732.0,344.0 L726.0,346.0 L724.3,348.9 L723.0,352.0 L721.0,358.0 L724.0,362.0 L726.1,365.3 L729.0,368.0 L730.0,373.0 L727.8,376.4 L726.0,380.0 L724.3,384.1 L722.0,388.0 L724.0,393.0 L724.1,396.6 L723.0,400.0 L722.9,403.5 L721.3,406.6 L721.0,410.0 M689.0,334.0 L686.8,337.3 L684.0,340.0 L685.0,346.0 L682.7,350.1 L680.0,354.0 L677.6,357.1 L675.0,360.0 L676.2,363.9 L676.0,368.0 L678.0,374.0 L676.7,377.5 L675.0,380.8 L673.0,384.0 L673.0,387.4 L673.9,390.6 L674.0,394.0 L673.9,397.4 L672.6,400.6 L673.0,404.0 L675.0,410.0 M652.0,358.0 L650.0,364.0 L647.0,367.0 L644.0,370.0 L639.9,370.0 L636.0,371.0 L633.4,368.9 L630.2,367.6 L628.0,365.0 L624.0,363.6 L620.0,362.0 M625.0,368.0 L625.8,372.0 L625.9,376.1 L627.0,380.0 L628.9,383.2 L630.1,386.8 L632.0,390.0 L636.0,391.1 L640.0,392.0 L643.2,393.6 L646.0,396.0 L644.5,399.9 L644.0,404.0 L646.0,410.0 M768.0,309.0 L771.3,310.0 L774.0,312.0 L777.3,313.9 L781.0,315.0 L778.0,320.0 L780.0,325.0 L785.0,327.0 L782.0,331.0 L779.2,332.9 L776.0,334.0 L772.7,335.7 L769.0,336.0 L763.0,334.0 L757.0,336.0 L753.8,334.9 L751.0,333.0 L750.0,328.0 L752.7,326.3 L755.0,324.0 L756.2,320.6 L756.0,317.0 L758.7,314.8 L762.0,314.0 L765.0,311.5 L768.0,309.0 M785.0,327.0 L786.0,330.5 L787.0,334.0 L791.0,338.0 L787.0,342.0 L785.1,344.8 L784.0,348.0 L784.0,353.0 L778.0,354.0 L774.8,352.9 L772.0,351.0 L771.0,346.0 L772.5,343.0 L774.0,340.0 L776.0,334.0 M784.0,353.0 L785.7,355.9 L787.0,359.0 L791.0,363.0 L796.0,366.0 L798.8,367.9 L802.0,369.0 L802.9,372.4 L803.0,376.0 L807.0,380.0 L813.0,382.0 M787.0,342.0 L790.4,343.2 L794.0,343.0 L798.0,342.2 L802.0,342.0 L804.2,339.7 L807.0,338.0 L809.7,335.2 L812.0,332.0 M748.0,392.0 L750.0,389.5 L752.0,387.0 L754.3,384.2 L757.5,382.5 L760.0,380.0 L761.5,377.1 L764.0,375.0 L768.2,372.9 L772.0,370.0 L776.1,368.3 L780.0,366.0 L783.7,364.4 L787.0,362.0 M721.0,389.0 L724.4,391.7 L728.0,394.0 L732.1,395.3 L736.0,397.0 L740.0,397.4 L744.0,398.0 L748.0,394.0 L749.0,400.0 L748.8,403.3 L747.8,406.6 L748.0,410.0 M809.0,302.0 L811.5,304.7 L813.0,308.0 L814.0,312.2 L816.0,316.0 L818.2,319.7 L819.0,324.0 L817.0,327.0 M722.0,240.0 L722.4,240.4 M724.0,394.0 L722.9,397.2 L721.0,400.0 L719.8,404.1 L718.0,408.0 L713.7,409.5 L710.0,412.0 L706.7,413.0 L703.4,414.2 L700.0,415.0 L695.7,417.0 L692.0,420.0 L688.1,421.7 L684.0,422.7 L680.0,424.0 L676.0,425.0 L672.0,426.0 L670.0,428.0 M670.0,428.0 L670.9,424.0 L671.0,420.0 L672.9,416.1 L674.0,412.0 L674.4,409.0 M670.0,428.0 L672.3,432.1 L675.0,436.0 L677.7,439.9 L680.0,444.0 L682.2,446.5 L684.4,449.0 L686.0,452.0 L687.5,456.2 L690.0,460.0 L693.3,463.2 L697.0,466.0 M748.0,399.0 L750.8,401.8 L754.0,404.0 L756.7,401.6 L760.0,400.0 L758.1,404.0 L756.0,408.0 L752.3,409.6 L749.0,412.0 L745.4,414.4 L742.0,417.0 L745.3,418.0 L748.0,420.0 L751.0,422.5 L754.0,425.0 L756.7,427.0 L760.0,428.0 L761.7,425.3 L764.0,423.0 L769.6,420.0 L772.1,422.2 L774.0,425.0 L777.1,426.2 L780.0,428.0 L784.0,428.3 L788.0,428.0 L790.7,430.4 L794.0,432.0 L796.7,429.6 L800.0,428.0 L802.6,424.6 L806.0,422.0 L809.0,418.0 M754.0,425.0 L753.4,428.6 L752.0,432.0 L754.0,438.0 L752.2,441.1 L750.0,444.0 L751.5,447.0 L753.0,450.0 L752.5,454.1 L751.0,458.0 L752.7,461.9 L754.0,466.0 L758.0,470.0 M769.6,420.0 L768.7,424.1 L767.0,428.0 L769.1,430.6 L772.0,432.0 L774.8,434.3 L778.0,436.0 L779.6,439.9 L780.0,444.0 L783.7,446.6 L788.0,448.0 L790.5,451.7 L792.0,456.0 L790.0,462.0 L793.1,463.9 L796.0,466.0 L798.6,463.4 L800.0,460.0 L804.0,463.0 L804.6,466.6 L806.0,470.0 M809.0,418.0 L811.2,421.2 L814.0,424.0 L817.1,426.9 L820.0,430.0 L823.0,431.0 M814.0,412.4 L811.8,415.5 L809.0,418.0 M618.0,339.0 L618.8,342.6 L620.0,346.0 L618.5,349.3 L616.0,352.0 L617.4,355.9 L618.0,360.0 L621.1,361.5 L624.3,362.7 L627.0,365.0 M850.4,517.1 L852.2,513.0 L851.8,512.5 L848.9,514.5 L850.4,516.4 L853.4,512.0 L851.4,516.5 L850.5,509.2 L852.3,518.3 M850.4,524.0 L850.8,523.8 L849.7,521.5 L848.1,523.3 L847.0,521.2 L850.4,524.1 L849.6,519.5 L848.6,521.6 L849.6,521.1 M847.1,484.2 L844.1,482.8 L847.7,481.4 L845.9,484.4 L843.2,482.2 L844.0,483.4 L848.6,482.1 L843.6,482.4 L846.2,483.1 M818.1,572.1 L820.0,571.2 L817.5,574.6 L816.3,572.5 L817.4,573.1 L815.7,574.9 L817.1,567.5 L816.6,570.2 L815.1,570.3 M821.6,567.0 L821.3,564.8 L820.6,567.2 L824.2,566.1 L820.6,567.5 L821.5,564.6 L820.1,567.4 L823.5,566.7 L821.8,566.3 M803.8,596.8 L804.8,594.8 L808.5,595.9 L805.7,592.8 L806.4,591.8 L808.7,593.1 L808.8,592.6 L805.0,592.5 L805.4,592.1 M809.5,589.3 L810.9,586.5 L811.0,587.9 L811.6,588.8 L812.8,587.2 L814.1,590.1 L809.8,590.0 L814.0,589.7 L810.2,590.0 M776.9,626.6 L772.6,631.3 L777.1,627.8 L773.2,627.2 L774.1,630.4 L774.9,627.3 L778.8,630.5 L773.7,631.0 L776.8,630.4 M769.0,637.6 L769.7,637.4 L766.2,636.8 L768.2,637.0 L767.6,637.5 L768.3,635.1 L766.4,634.6 L768.0,634.2 L767.8,634.6 M846.0,349.0 L846.2,350.1 L844.0,350.0 L845.9,349.2 L846.7,350.0 L845.5,348.8 L847.8,347.7 L846.5,349.4 L844.1,349.3 M843.5,345.7 L842.5,345.9 L843.0,343.9 L844.2,342.1 L843.7,344.5 L842.5,345.4 L842.6,343.9 L843.1,345.1 L842.1,343.7 M699.5,663.2 L702.0,662.4 L702.0,662.7 L700.0,662.3 L700.0,664.4 L700.9,663.9 L699.0,662.5 L698.8,663.3 L700.8,663.9 M657.2,665.7 L662.3,665.1 L657.3,664.4 L657.0,664.1 L662.5,665.3 L660.9,665.9 L662.5,665.3 L660.7,665.4 L661.2,665.3 M641.1,662.1 L641.0,662.9 L641.6,661.8 L638.1,661.6 L641.6,664.2 L640.9,662.6 L641.9,663.9 L640.4,662.3 L638.8,662.8 M665.5,679.3 L666.4,684.3 L664.7,680.7 L664.6,676.2 L666.9,680.8 L667.3,679.5 L664.5,678.9 L666.3,684.4 L667.4,679.8"/>
</g>
<g>
<circle class="cc" cx="324.5" cy="257.5" r="5.2"/>
<circle class="cc" cx="377" cy="511.3" r="5.2"/>
<circle class="cc" cx="540" cy="390.3" r="5.2"/>
<circle class="cc" cx="570.8" cy="399.5" r="5.2"/>
<circle class="cc" cx="609.6" cy="355" r="5.2"/>
<circle class="cc" cx="691.6" cy="311.6" r="5.2"/>
<circle class="cc" cx="575" cy="498.3" r="5.2"/>
<circle class="cc" cx="554.8" cy="601.4" r="5.2"/>
<circle class="cc" cx="613" cy="519.5" r="5.2"/>
<circle class="cc" cx="616" cy="574" r="5.2"/>
<circle class="cc" cx="641" cy="642.3" r="5.2"/>
<circle class="cc" cx="715.8" cy="636.8" r="5.2"/>
<circle class="cc" cx="672" cy="694" r="5.2"/>
<circle class="cc" cx="809" cy="583" r="5.2"/>
<circle class="cc" cx="757" cy="535" r="5.2"/>
<circle class="cc" cx="713" cy="543.8" r="5.2"/>
<circle class="cc" cx="733" cy="501.2" r="5.2"/>
<circle class="cc" cx="778" cy="476.4" r="5.2"/>
<circle class="cc" cx="801" cy="473" r="5.2"/>
<circle class="cc" cx="842.6" cy="487.6" r="5.2"/>
<circle class="cc" cx="822.6" cy="506" r="5.2"/>
<circle class="cc" cx="765" cy="328" r="5.2"/>
<circle class="cc" cx="777" cy="343" r="5.2"/>
<circle class="cc" cx="705.6" cy="366" r="5.2"/>
<circle class="cc" cx="736" cy="362.6" r="5.2"/>
<circle class="cc" cx="774" cy="388" r="5.2"/>
<circle class="cc" cx="722" cy="423" r="5.2"/>
<circle class="cc" cx="650.5" cy="432" r="5.2"/>
<circle class="cc" cx="922" cy="221" r="5.2"/>
<circle class="cc" cx="902" cy="256" r="5.2"/>
<circle class="cc" cx="872" cy="294" r="5.2"/>
</g>
<g shape-rendering="crispEdges" stroke="#000" fill="none">
<rect x="99" y="68" width="952" height="2" fill="#000" stroke="none"/>
<rect x="99" y="68" width="2" height="664" fill="#000" stroke="none"/>
<rect x="99" y="731" width="952" height="1" fill="#000" stroke="none"/>
<rect x="1050" y="68" width="1" height="664" fill="#000" stroke="none"/>
<rect x="130" y="732" width="1" height="6" fill="#000" stroke="none"/>
<rect x="207" y="732" width="1" height="6" fill="#000" stroke="none"/>
<rect x="284" y="732" width="1" height="6" fill="#000" stroke="none"/>
<rect x="360" y="732" width="1" height="6" fill="#000" stroke="none"/>
<rect x="437" y="732" width="1" height="6" fill="#000" stroke="none"/>
<rect x="514" y="732" width="1" height="6" fill="#000" stroke="none"/>
<rect x="590" y="732" width="1" height="6" fill="#000" stroke="none"/>
<rect x="667" y="732" width="1" height="6" fill="#000" stroke="none"/>
<rect x="744" y="732" width="1" height="6" fill="#000" stroke="none"/>
<rect x="820" y="732" width="1" height="6" fill="#000" stroke="none"/>
<rect x="897" y="732" width="1" height="6" fill="#000" stroke="none"/>
<rect x="974" y="732" width="1" height="6" fill="#000" stroke="none"/>
<rect x="1050" y="732" width="1" height="6" fill="#000" stroke="none"/>
<rect x="94" y="695" width="6" height="1" fill="#000" stroke="none"/>
<rect x="94" y="603" width="6" height="1" fill="#000" stroke="none"/>
<rect x="94" y="511" width="6" height="1" fill="#000" stroke="none"/>
<rect x="94" y="419" width="6" height="1" fill="#000" stroke="none"/>
<rect x="94" y="327" width="6" height="1" fill="#000" stroke="none"/>
<rect x="94" y="235" width="6" height="1" fill="#000" stroke="none"/>
<rect x="94" y="143" width="6" height="1" fill="#000" stroke="none"/>
</g>
<g opacity="0.999">
<text class="ax" x="131.0" y="756" text-anchor="middle">75E</text>
<text class="ax" x="207.7" y="756" text-anchor="middle">80E</text>
<text class="ax" x="284.3" y="756" text-anchor="middle">85E</text>
<text class="ax" x="361.0" y="756" text-anchor="middle">90E</text>
<text class="ax" x="437.7" y="756" text-anchor="middle">95E</text>
<text class="ax" x="514.3" y="756" text-anchor="middle">100E</text>
<text class="ax" x="591.0" y="756" text-anchor="middle">105E</text>
<text class="ax" x="667.7" y="756" text-anchor="middle">110E</text>
<text class="ax" x="744.3" y="756" text-anchor="middle">115E</text>
<text class="ax" x="821.0" y="756" text-anchor="middle">120E</text>
<text class="ax" x="897.7" y="756" text-anchor="middle">125E</text>
<text class="ax" x="974.3" y="756" text-anchor="middle">130E</text>
<text class="ax" x="1051.0" y="756" text-anchor="middle">135E</text>
<text class="ax" x="89" y="702.0" text-anchor="end">20N</text>
<text class="ax" x="89" y="610.0" text-anchor="end">25N</text>
<text class="ax" x="89" y="518.1" text-anchor="end">30N</text>
<text class="ax" x="89" y="426.1" text-anchor="end">35N</text>
<text class="ax" x="89" y="334.1" text-anchor="end">40N</text>
<text class="ax" x="89" y="242.2" text-anchor="end">45N</text>
<text class="ax" x="89" y="150.2" text-anchor="end">50N</text>
<text class="ttl" y="43.5" ><tspan x="172.6" textLength="48.5" lengthAdjust="spacingAndGlyphs">2026</tspan><tspan x="228.2" textLength="21.0" lengthAdjust="spacingAndGlyphs">年</tspan><tspan x="252.8" textLength="22.9" lengthAdjust="spacingAndGlyphs">03</tspan><tspan x="277.5" textLength="19.5" lengthAdjust="spacingAndGlyphs">月</tspan><tspan x="307.0" textLength="23.0" lengthAdjust="spacingAndGlyphs">28</tspan><tspan x="335.0" textLength="18.0" lengthAdjust="spacingAndGlyphs">日</tspan><tspan x="357.4" textLength="122.2" lengthAdjust="spacingAndGlyphs">WRF/cmaq</tspan><tspan x="481.5" textLength="45.5" lengthAdjust="spacingAndGlyphs">模式</tspan><tspan x="528.5" textLength="66.8" lengthAdjust="spacingAndGlyphs">36km</tspan><tspan x="598.0" textLength="98.5" lengthAdjust="spacingAndGlyphs">预报产品</tspan><tspan x="699.5" textLength="4.5" lengthAdjust="spacingAndGlyphs">:</tspan><tspan x="708.0" textLength="24.7" lengthAdjust="spacingAndGlyphs">03</tspan><tspan x="734.0" textLength="19.5" lengthAdjust="spacingAndGlyphs">月</tspan><tspan x="759.5" textLength="22.9" lengthAdjust="spacingAndGlyphs">28</tspan><tspan x="788.5" textLength="18.0" lengthAdjust="spacingAndGlyphs">日</tspan><tspan x="809.0" textLength="23.0" lengthAdjust="spacingAndGlyphs">03</tspan><tspan x="834.5" textLength="21.0" lengthAdjust="spacingAndGlyphs">时</tspan></text>
<text class="ttl" y="43.5" style="fill:#f03c3c"><tspan x="871.5" textLength="112.0" lengthAdjust="spacingAndGlyphs">PRIMARY</tspan></text>
<text class="cp" y="699.5" ><tspan x="162.5" textLength="77.5" lengthAdjust="spacingAndGlyphs">版权所有</tspan><tspan x="242.5" textLength="4.0" lengthAdjust="spacingAndGlyphs">:</tspan><tspan x="253.0" textLength="72.5" lengthAdjust="spacingAndGlyphs">南京大学</tspan><tspan x="341.5" textLength="200.5" lengthAdjust="spacingAndGlyphs">南京创蓝科技有限公司</tspan></text>
<text transform="translate(332.6,701.5) scale(0.55,1)" style="font-size:33px">|</text>
</g>
<g shape-rendering="crispEdges">
<rect x="270.5" y="760.5" width="80" height="31" fill="#00dc00" stroke="#000" stroke-width="1"/>
<rect x="350.5" y="760.5" width="80" height="31" fill="#ff8200" stroke="#000" stroke-width="1"/>
<rect x="430.5" y="760.5" width="80" height="31" fill="#ff0000" stroke="#000" stroke-width="1"/>
<rect x="510.5" y="760.5" width="80" height="31" fill="#d2006e" stroke="#000" stroke-width="1"/>
<rect x="590.5" y="760.5" width="80" height="31" fill="#7e0023" stroke="#000" stroke-width="1"/>
<rect x="670.5" y="760.5" width="80" height="31" fill="#ffff00" stroke="#000" stroke-width="1"/>
<rect x="750.5" y="760.5" width="80" height="31" fill="#ffff00" stroke="#000" stroke-width="1"/>
</g>
<g opacity="0.999">
<text class="lg" y="812.5" ><tspan x="291.7" textLength="36.7" lengthAdjust="spacingAndGlyphs">so2</tspan><tspan x="369.8" textLength="40.9" lengthAdjust="spacingAndGlyphs">no2</tspan><tspan x="458.0" textLength="24.5" lengthAdjust="spacingAndGlyphs">co</tspan><tspan x="515.3" textLength="70.6" lengthAdjust="spacingAndGlyphs">pm2.5</tspan><tspan x="598.6" textLength="63.0" lengthAdjust="spacingAndGlyphs">pm10</tspan><tspan x="675.6" textLength="68.8" lengthAdjust="spacingAndGlyphs">o3_1h</tspan><tspan x="755.5" textLength="69.0" lengthAdjust="spacingAndGlyphs">o3_8h</tspan></text>
</g>
</svg>
</body></html>
